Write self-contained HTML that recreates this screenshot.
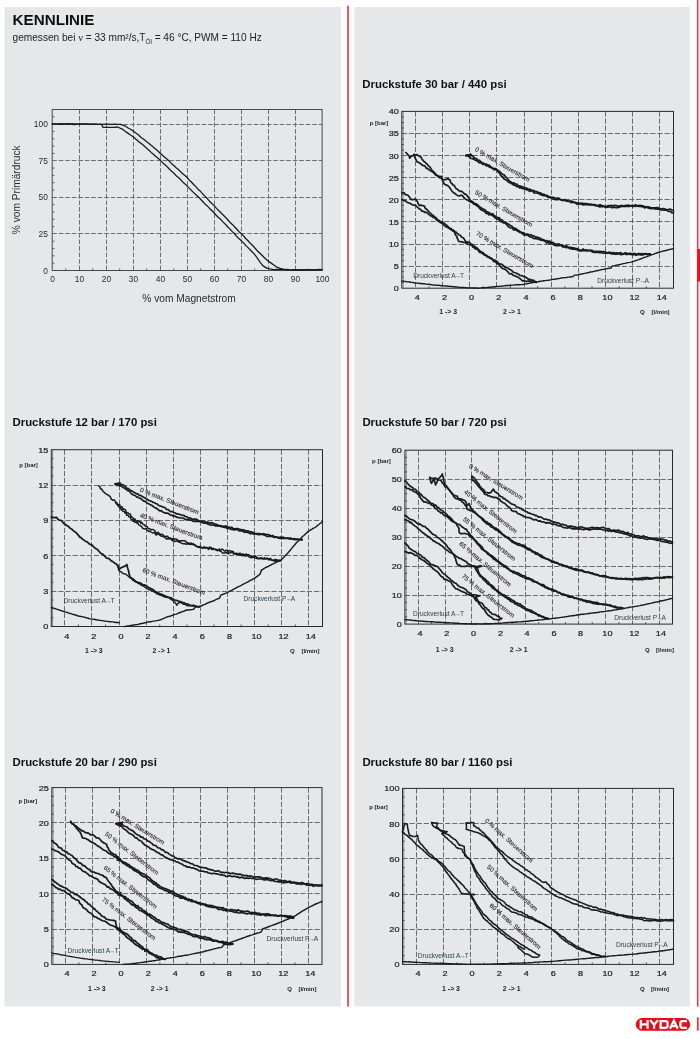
<!DOCTYPE html>
<html><head><meta charset="utf-8"><title>Kennlinie</title>
<style>
html,body{margin:0;padding:0;background:#fff;}
body{width:700px;height:1039px;overflow:hidden;font-family:"Liberation Sans",sans-serif;}
svg{display:block;position:absolute;left:0;top:0;}
text{font-family:"Liberation Sans",sans-serif;}
.g{stroke:#6a6a6a;stroke-width:1;stroke-dasharray:5.2 1.9;fill:none;}
.g1{stroke:#6e6e6e;stroke-width:1;stroke-dasharray:4.7 1.8;fill:none;}
.f1{stroke:#4a4a4a;stroke-width:1;fill:none;}
.t{stroke:#333;stroke-width:0.8;fill:none;}
.f{stroke:#2b2b2b;stroke-width:1;fill:none;}
.c{stroke:#1a1a1a;fill:none;stroke-linejoin:round;stroke-linecap:round;}
</style></head><body>
<svg width="700" height="1039" viewBox="0 0 700 1039">
<defs><filter id="bl" x="0" y="0" width="100%" height="100%" filterUnits="objectBoundingBox"><feGaussianBlur stdDeviation="0.36"/></filter></defs>
<g filter="url(#bl)">
<rect x="0" y="0" width="700" height="1039" fill="#ffffff"/>
<rect x="4.5" y="7" width="336.3" height="999.4" fill="#e6e7e8"/>
<rect x="354.3" y="7" width="335.6" height="999.4" fill="#e6e7e8"/>
<rect x="347.2" y="5.8" width="1.7" height="1000.8" fill="#ea3a44"/>
<rect x="696.9" y="0" width="1.6" height="1006.6" fill="#ea3a44"/>
<rect x="697.4" y="249" width="2.6" height="32.6" fill="#e8111d"/>
<rect x="696.9" y="1017.3" width="1.8" height="13.4" fill="#ea3a44"/>

<text x="12.6" y="25.4" font-size="15.2" text-anchor="start" font-weight="bold" fill="#111">KENNLINIE</text>
<text x="12.6" y="41.2" font-size="10.1" fill="#222">gemessen bei <tspan font-family="Liberation Serif" font-size="10.5">ν</tspan> = 33 mm²/s,T<tspan font-size="6.3" dy="2.6">Öl</tspan><tspan dy="-2.6"> = 46 °C, PWM = 110 Hz</tspan></text>
<line x1="79.50" y1="109.50" x2="79.50" y2="270.50" class="g1"/>
<line x1="106.50" y1="109.50" x2="106.50" y2="270.50" class="g1"/>
<line x1="133.50" y1="109.50" x2="133.50" y2="270.50" class="g1"/>
<line x1="160.50" y1="109.50" x2="160.50" y2="270.50" class="g1"/>
<line x1="187.50" y1="109.50" x2="187.50" y2="270.50" class="g1"/>
<line x1="214.50" y1="109.50" x2="214.50" y2="270.50" class="g1"/>
<line x1="241.50" y1="109.50" x2="241.50" y2="270.50" class="g1"/>
<line x1="268.50" y1="109.50" x2="268.50" y2="270.50" class="g1"/>
<line x1="295.50" y1="109.50" x2="295.50" y2="270.50" class="g1"/>
<line x1="52.20" y1="233.50" x2="322.10" y2="233.50" class="g1"/>
<line x1="52.20" y1="197.50" x2="322.10" y2="197.50" class="g1"/>
<line x1="52.20" y1="160.50" x2="322.10" y2="160.50" class="g1"/>
<line x1="52.20" y1="124.50" x2="322.10" y2="124.50" class="g1"/>
<line x1="65.70" y1="270.50" x2="65.70" y2="268.50" class="t"/>
<line x1="92.69" y1="270.50" x2="92.69" y2="268.50" class="t"/>
<line x1="119.68" y1="270.50" x2="119.68" y2="268.50" class="t"/>
<line x1="146.67" y1="270.50" x2="146.67" y2="268.50" class="t"/>
<line x1="173.66" y1="270.50" x2="173.66" y2="268.50" class="t"/>
<line x1="200.65" y1="270.50" x2="200.65" y2="268.50" class="t"/>
<line x1="227.64" y1="270.50" x2="227.64" y2="268.50" class="t"/>
<line x1="254.62" y1="270.50" x2="254.62" y2="268.50" class="t"/>
<line x1="281.62" y1="270.50" x2="281.62" y2="268.50" class="t"/>
<line x1="308.61" y1="270.50" x2="308.61" y2="268.50" class="t"/>
<line x1="52.20" y1="263.18" x2="54.40" y2="263.18" class="t"/>
<line x1="52.20" y1="255.86" x2="54.40" y2="255.86" class="t"/>
<line x1="52.20" y1="248.55" x2="54.40" y2="248.55" class="t"/>
<line x1="52.20" y1="241.23" x2="54.40" y2="241.23" class="t"/>
<line x1="52.20" y1="226.59" x2="54.40" y2="226.59" class="t"/>
<line x1="52.20" y1="219.27" x2="54.40" y2="219.27" class="t"/>
<line x1="52.20" y1="211.95" x2="54.40" y2="211.95" class="t"/>
<line x1="52.20" y1="204.64" x2="54.40" y2="204.64" class="t"/>
<line x1="52.20" y1="190.00" x2="54.40" y2="190.00" class="t"/>
<line x1="52.20" y1="182.68" x2="54.40" y2="182.68" class="t"/>
<line x1="52.20" y1="175.36" x2="54.40" y2="175.36" class="t"/>
<line x1="52.20" y1="168.05" x2="54.40" y2="168.05" class="t"/>
<line x1="52.20" y1="153.41" x2="54.40" y2="153.41" class="t"/>
<line x1="52.20" y1="146.09" x2="54.40" y2="146.09" class="t"/>
<line x1="52.20" y1="138.77" x2="54.40" y2="138.77" class="t"/>
<line x1="52.20" y1="131.45" x2="54.40" y2="131.45" class="t"/>
<line x1="52.20" y1="116.82" x2="54.40" y2="116.82" class="t"/>
<rect x="52.20" y="109.50" width="269.90" height="161.00" class="f1"/>
<path d="M52.2,124.1 L55.2,124.1 L58.2,124.3 L61.4,124.3 L64.5,124.2 L67.5,124.2 L70.6,124.2 L73.6,124.5 L76.7,124.4 L79.8,124.2 L82.9,124.2 L86.1,124.2 L89.3,124.4 L92.2,124.1 L95.4,124.1 L98.5,124.3 L101.9,124.3 L104.9,124.2 L108.0,124.2 L111.2,124.4 L114.3,124.1 L117.6,124.3 L120.6,124.3 L124.9,125.8 L127.8,127.7 L130.5,129.2 L133.1,130.9 L135.9,133.1 L138.6,135.1 L141.1,137.4 L144.0,139.6 L146.7,141.7 L149.3,143.7 L152.0,146.0 L154.6,148.2 L157.4,150.6 L160.2,153.2 L162.4,155.2 L164.7,157.3 L166.9,159.1 L169.1,161.1 L171.4,163.4 L173.8,165.6 L175.9,167.5 L178.3,169.4 L180.5,171.8 L182.7,173.7 L184.9,175.6 L187.2,177.6 L189.4,180.2 L191.6,182.3 L193.9,184.7 L196.1,186.9 L198.3,189.6 L200.7,191.6 L203.0,194.3 L205.2,196.4 L207.5,198.8 L209.6,201.4 L212.0,203.6 L214.3,205.9 L216.5,208.4 L218.6,210.5 L220.9,212.8 L223.2,215.0 L225.4,217.3 L227.8,219.8 L229.9,222.2 L232.3,224.4 L234.5,226.7 L236.7,229.0 L238.8,231.4 L241.1,233.5 L243.5,235.9 L245.7,238.5 L248.0,240.7 L250.3,243.2 L252.7,245.5 L254.9,248.0 L257.2,250.7 L259.9,253.2 L262.7,256.0 L265.3,258.5 L268.1,261.1 L270.8,262.9 L273.5,264.8 L276.3,266.8 L281.8,269.0 L287.0,269.8 L291.2,270.1 L295.1,270.0 L298.5,270.0 L301.9,269.9 L305.3,270.1 L308.7,269.7 L312.0,269.8 L315.2,269.8 L318.8,269.5 L322.1,269.6" class="c" stroke-width="1.3"/>
<path d="M52.2,123.8 L55.3,123.9 L58.3,123.8 L61.3,123.7 L64.4,123.8 L67.5,123.6 L70.6,123.7 L73.7,123.8 L76.9,123.9 L80.0,124.1 L83.0,123.8 L86.2,123.8 L89.3,124.1 L92.2,124.2 L95.5,124.2 L98.6,124.3 L101.5,124.2 L102.9,127.3 L106.7,127.4 L110.4,127.4 L114.1,127.3 L117.6,127.0 L122.3,129.1 L125.0,131.3 L127.8,133.1 L130.5,135.0 L133.2,136.7 L136.0,139.3 L138.6,141.6 L141.3,143.5 L144.0,145.8 L146.6,148.2 L149.0,150.2 L151.2,152.4 L153.4,154.2 L155.6,156.3 L158.0,158.3 L160.2,160.1 L162.4,162.4 L164.7,164.5 L167.0,166.6 L169.1,168.8 L171.4,171.1 L173.7,173.0 L175.9,175.4 L178.1,177.3 L180.5,179.5 L182.7,181.9 L184.8,183.8 L187.2,186.1 L189.3,188.1 L191.5,190.5 L193.7,192.6 L196.0,194.8 L198.4,196.9 L200.6,199.3 L202.9,201.7 L205.0,204.0 L207.3,205.9 L209.5,208.4 L211.8,210.5 L214.0,212.8 L216.2,215.2 L218.4,217.5 L220.9,219.6 L223.1,222.1 L225.4,224.3 L227.6,226.7 L230.0,229.1 L232.1,231.4 L234.3,233.5 L236.5,236.2 L238.9,238.6 L241.1,240.6 L243.5,242.9 L245.9,245.6 L248.3,247.9 L250.6,250.3 L254.8,254.6 L256.8,257.3 L258.8,260.4 L260.8,263.2 L262.7,265.6 L266.8,268.1 L270.1,268.9 L273.4,269.6 L277.1,269.5 L280.7,269.5 L284.2,269.7 L287.3,269.5 L290.5,269.9 L293.7,269.7 L297.0,270.1 L300.0,269.7 L303.1,269.6 L306.3,269.6 L309.5,269.7 L312.6,269.9 L315.8,269.6 L318.8,269.6 L322.1,269.8" class="c" stroke-width="1.3"/>
<text x="47.8" y="273.5" font-size="8.4" text-anchor="end" font-weight="normal" fill="#2a2a2a">0</text>
<text x="47.8" y="236.9" font-size="8.4" text-anchor="end" font-weight="normal" fill="#2a2a2a">25</text>
<text x="47.8" y="200.3" font-size="8.4" text-anchor="end" font-weight="normal" fill="#2a2a2a">50</text>
<text x="47.8" y="163.7" font-size="8.4" text-anchor="end" font-weight="normal" fill="#2a2a2a">75</text>
<text x="47.8" y="127.1" font-size="8.4" text-anchor="end" font-weight="normal" fill="#2a2a2a">100</text>
<text x="52.5" y="281.8" font-size="8.4" text-anchor="middle" font-weight="normal" fill="#2a2a2a">0</text>
<text x="79.5" y="281.8" font-size="8.4" text-anchor="middle" font-weight="normal" fill="#2a2a2a">10</text>
<text x="106.5" y="281.8" font-size="8.4" text-anchor="middle" font-weight="normal" fill="#2a2a2a">20</text>
<text x="133.5" y="281.8" font-size="8.4" text-anchor="middle" font-weight="normal" fill="#2a2a2a">30</text>
<text x="160.5" y="281.8" font-size="8.4" text-anchor="middle" font-weight="normal" fill="#2a2a2a">40</text>
<text x="187.5" y="281.8" font-size="8.4" text-anchor="middle" font-weight="normal" fill="#2a2a2a">50</text>
<text x="214.4" y="281.8" font-size="8.4" text-anchor="middle" font-weight="normal" fill="#2a2a2a">60</text>
<text x="241.4" y="281.8" font-size="8.4" text-anchor="middle" font-weight="normal" fill="#2a2a2a">70</text>
<text x="268.4" y="281.8" font-size="8.4" text-anchor="middle" font-weight="normal" fill="#2a2a2a">80</text>
<text x="295.4" y="281.8" font-size="8.4" text-anchor="middle" font-weight="normal" fill="#2a2a2a">90</text>
<text x="322.4" y="281.8" font-size="8.4" text-anchor="middle" font-weight="normal" fill="#2a2a2a">100</text>
<text x="19.8" y="189.8" font-size="10.2" text-anchor="middle" font-weight="normal" fill="#2a2a2a" transform="rotate(-90 19.8 189.8)">% vom Primärdruck</text>
<text x="189.0" y="302.0" font-size="10.2" text-anchor="middle" font-weight="normal" fill="#2a2a2a">% vom Magnetstrom</text>
<line x1="415.50" y1="111.40" x2="415.50" y2="288.20" class="g"/>
<line x1="442.50" y1="111.40" x2="442.50" y2="288.20" class="g"/>
<line x1="469.50" y1="111.40" x2="469.50" y2="288.20" class="g"/>
<line x1="496.50" y1="111.40" x2="496.50" y2="288.20" class="g"/>
<line x1="524.50" y1="111.40" x2="524.50" y2="288.20" class="g"/>
<line x1="551.50" y1="111.40" x2="551.50" y2="288.20" class="g"/>
<line x1="578.50" y1="111.40" x2="578.50" y2="288.20" class="g"/>
<line x1="605.50" y1="111.40" x2="605.50" y2="288.20" class="g"/>
<line x1="632.50" y1="111.40" x2="632.50" y2="288.20" class="g"/>
<line x1="659.50" y1="111.40" x2="659.50" y2="288.20" class="g"/>
<line x1="401.80" y1="266.50" x2="673.50" y2="266.50" class="g"/>
<line x1="401.80" y1="244.50" x2="673.50" y2="244.50" class="g"/>
<line x1="401.80" y1="221.50" x2="673.50" y2="221.50" class="g"/>
<line x1="401.80" y1="199.50" x2="673.50" y2="199.50" class="g"/>
<line x1="401.80" y1="177.50" x2="673.50" y2="177.50" class="g"/>
<line x1="401.80" y1="155.50" x2="673.50" y2="155.50" class="g"/>
<line x1="401.80" y1="133.50" x2="673.50" y2="133.50" class="g"/>
<line x1="428.97" y1="288.20" x2="428.97" y2="286.20" class="t"/>
<line x1="456.14" y1="288.20" x2="456.14" y2="286.20" class="t"/>
<line x1="483.31" y1="288.20" x2="483.31" y2="286.20" class="t"/>
<line x1="510.48" y1="288.20" x2="510.48" y2="286.20" class="t"/>
<line x1="537.65" y1="288.20" x2="537.65" y2="286.20" class="t"/>
<line x1="564.82" y1="288.20" x2="564.82" y2="286.20" class="t"/>
<line x1="591.99" y1="288.20" x2="591.99" y2="286.20" class="t"/>
<line x1="619.16" y1="288.20" x2="619.16" y2="286.20" class="t"/>
<line x1="646.33" y1="288.20" x2="646.33" y2="286.20" class="t"/>
<line x1="401.80" y1="282.68" x2="404.00" y2="282.68" class="t"/>
<line x1="401.80" y1="277.15" x2="404.00" y2="277.15" class="t"/>
<line x1="401.80" y1="271.62" x2="404.00" y2="271.62" class="t"/>
<line x1="401.80" y1="260.57" x2="404.00" y2="260.57" class="t"/>
<line x1="401.80" y1="255.05" x2="404.00" y2="255.05" class="t"/>
<line x1="401.80" y1="249.52" x2="404.00" y2="249.52" class="t"/>
<line x1="401.80" y1="238.47" x2="404.00" y2="238.47" class="t"/>
<line x1="401.80" y1="232.95" x2="404.00" y2="232.95" class="t"/>
<line x1="401.80" y1="227.43" x2="404.00" y2="227.43" class="t"/>
<line x1="401.80" y1="216.38" x2="404.00" y2="216.38" class="t"/>
<line x1="401.80" y1="210.85" x2="404.00" y2="210.85" class="t"/>
<line x1="401.80" y1="205.32" x2="404.00" y2="205.32" class="t"/>
<line x1="401.80" y1="194.27" x2="404.00" y2="194.27" class="t"/>
<line x1="401.80" y1="188.75" x2="404.00" y2="188.75" class="t"/>
<line x1="401.80" y1="183.22" x2="404.00" y2="183.22" class="t"/>
<line x1="401.80" y1="172.18" x2="404.00" y2="172.18" class="t"/>
<line x1="401.80" y1="166.65" x2="404.00" y2="166.65" class="t"/>
<line x1="401.80" y1="161.12" x2="404.00" y2="161.12" class="t"/>
<line x1="401.80" y1="150.07" x2="404.00" y2="150.07" class="t"/>
<line x1="401.80" y1="144.55" x2="404.00" y2="144.55" class="t"/>
<line x1="401.80" y1="139.03" x2="404.00" y2="139.03" class="t"/>
<line x1="401.80" y1="127.97" x2="404.00" y2="127.97" class="t"/>
<line x1="401.80" y1="122.45" x2="404.00" y2="122.45" class="t"/>
<line x1="401.80" y1="116.93" x2="404.00" y2="116.93" class="t"/>
<rect x="401.80" y="111.40" width="271.70" height="176.80" class="f"/>
<line x1="403.10" y1="111.40" x2="403.10" y2="288.20" stroke="#444" stroke-width="0.6"/>
<text x="362.3" y="87.6" font-size="11.4" text-anchor="start" font-weight="bold" fill="#111">Druckstufe 30 bar / 440 psi</text>
<text transform="translate(398.8 291.1) scale(1.14 1)" font-size="8" text-anchor="end" font-weight="normal" fill="#222" stroke="#222" stroke-width="0.22">0</text>
<text transform="translate(398.8 269.0) scale(1.14 1)" font-size="8" text-anchor="end" font-weight="normal" fill="#222" stroke="#222" stroke-width="0.22">5</text>
<text transform="translate(398.8 246.9) scale(1.14 1)" font-size="8" text-anchor="end" font-weight="normal" fill="#222" stroke="#222" stroke-width="0.22">10</text>
<text transform="translate(398.8 224.8) scale(1.14 1)" font-size="8" text-anchor="end" font-weight="normal" fill="#222" stroke="#222" stroke-width="0.22">15</text>
<text transform="translate(398.8 202.7) scale(1.14 1)" font-size="8" text-anchor="end" font-weight="normal" fill="#222" stroke="#222" stroke-width="0.22">20</text>
<text transform="translate(398.8 180.6) scale(1.14 1)" font-size="8" text-anchor="end" font-weight="normal" fill="#222" stroke="#222" stroke-width="0.22">25</text>
<text transform="translate(398.8 158.5) scale(1.14 1)" font-size="8" text-anchor="end" font-weight="normal" fill="#222" stroke="#222" stroke-width="0.22">30</text>
<text transform="translate(398.8 136.4) scale(1.14 1)" font-size="8" text-anchor="end" font-weight="normal" fill="#222" stroke="#222" stroke-width="0.22">35</text>
<text transform="translate(398.8 114.3) scale(1.14 1)" font-size="8" text-anchor="end" font-weight="normal" fill="#222" stroke="#222" stroke-width="0.22">40</text>
<text transform="translate(417.2 300.2) scale(1.14 1)" font-size="8" text-anchor="middle" font-weight="normal" fill="#222" stroke="#222" stroke-width="0.22">4</text>
<text transform="translate(444.4 300.2) scale(1.14 1)" font-size="8" text-anchor="middle" font-weight="normal" fill="#222" stroke="#222" stroke-width="0.22">2</text>
<text transform="translate(471.5 300.2) scale(1.14 1)" font-size="8" text-anchor="middle" font-weight="normal" fill="#222" stroke="#222" stroke-width="0.22">0</text>
<text transform="translate(498.7 300.2) scale(1.14 1)" font-size="8" text-anchor="middle" font-weight="normal" fill="#222" stroke="#222" stroke-width="0.22">2</text>
<text transform="translate(525.9 300.2) scale(1.14 1)" font-size="8" text-anchor="middle" font-weight="normal" fill="#222" stroke="#222" stroke-width="0.22">4</text>
<text transform="translate(553.0 300.2) scale(1.14 1)" font-size="8" text-anchor="middle" font-weight="normal" fill="#222" stroke="#222" stroke-width="0.22">6</text>
<text transform="translate(580.2 300.2) scale(1.14 1)" font-size="8" text-anchor="middle" font-weight="normal" fill="#222" stroke="#222" stroke-width="0.22">8</text>
<text transform="translate(607.4 300.2) scale(1.14 1)" font-size="8" text-anchor="middle" font-weight="normal" fill="#222" stroke="#222" stroke-width="0.22">10</text>
<text transform="translate(634.5 300.2) scale(1.14 1)" font-size="8" text-anchor="middle" font-weight="normal" fill="#222" stroke="#222" stroke-width="0.22">12</text>
<text transform="translate(661.7 300.2) scale(1.14 1)" font-size="8" text-anchor="middle" font-weight="normal" fill="#222" stroke="#222" stroke-width="0.22">14</text>
<text x="369.7" y="124.8" font-size="6" text-anchor="start" font-weight="bold" fill="#222">p [bar]</text>
<text x="448.2" y="314.3" font-size="6.9" text-anchor="middle" font-weight="bold" fill="#222">1 -&gt; 3</text>
<text x="511.9" y="314.3" font-size="6.9" text-anchor="middle" font-weight="bold" fill="#222">2 -&gt; 1</text>
<text x="640.0" y="314.1" font-size="6.0" text-anchor="start" font-weight="bold" fill="#222">Q</text>
<text x="651.6" y="314.2" font-size="6.0" text-anchor="start" font-weight="bold" fill="#222">[l/min]</text>
<path d="M465.6,155.6 L467.6,154.9 L469.4,155.1 L471.2,155.5 L472.6,155.8 L473.6,157.2 L475.4,158.7 L476.4,158.7 L477.9,160.0 L479.5,160.4 L480.8,161.8 L482.2,162.8 L483.5,163.2 L484.8,163.8 L486.5,164.0 L487.5,165.2 L489.1,165.2 L490.7,166.8 L492.4,168.0 L494.2,168.7 L495.4,168.5 L496.8,169.6 L498.5,170.7 L499.6,171.7 L501.1,173.0 L502.5,174.3 L503.8,174.6 L505.0,175.9 L506.0,177.2 L507.4,178.4 L508.3,179.6 L509.4,181.5 L510.6,181.7 L512.0,183.1 L513.5,182.7 L515.2,184.0 L516.8,184.0 L518.0,185.5 L519.7,186.1 L520.7,186.2 L522.3,186.7 L524.4,188.0 L525.6,187.9 L526.9,188.3 L528.0,189.3 L529.9,189.1 L531.2,190.3 L532.3,190.3 L533.7,190.6 L535.2,191.5 L536.9,191.6 L537.9,192.2 L539.8,192.7 L541.1,193.3 L542.9,194.4 L543.9,194.3 L545.5,195.4 L547.1,195.3 L548.3,196.7 L549.9,196.6 L551.2,197.8 L552.5,197.3 L554.1,197.5 L556.0,198.7 L557.2,198.1 L558.8,198.2 L559.9,199.3 L561.7,199.8 L563.3,200.2 L564.7,199.5 L565.9,200.2 L567.8,200.9 L569.1,201.0 L570.7,201.0 L572.0,201.1 L573.8,202.3 L575.2,202.3 L577.1,203.2 L578.3,202.7 L580.2,203.7 L581.6,203.1 L583.2,203.5 L584.6,203.7 L586.2,203.5 L587.7,203.8 L588.9,204.7 L590.7,204.2 L591.8,204.4 L593.4,204.6 L594.8,204.7 L596.6,205.6 L597.8,205.7 L599.6,204.9 L601.2,205.2 L602.5,205.9 L604.2,206.1 L605.5,206.5 L606.9,206.3 L608.3,205.6 L609.6,205.8 L611.5,205.4 L613.3,206.2 L614.5,205.3 L616.2,205.5 L617.7,206.1 L619.2,206.1 L621.0,205.5 L622.5,205.6 L624.1,206.4 L625.3,205.3 L626.8,205.5 L628.4,205.0 L629.9,206.1 L631.4,205.9 L632.4,205.8 L634.0,205.7 L635.8,204.9 L637.1,205.9 L638.3,205.6 L640.2,205.4 L641.9,205.9 L643.4,205.9 L644.8,207.1 L646.2,206.7 L648.0,207.1 L649.1,206.9 L650.7,207.9 L652.4,207.8 L653.6,207.9 L655.2,207.9 L656.9,207.6 L658.5,207.9 L659.9,208.6 L661.1,209.0 L663.0,208.5 L664.6,208.8 L666.2,209.5 L667.3,209.9 L668.8,209.4 L670.4,209.2 L672.1,210.1 L673.5,210.8" class="c" stroke-width="1.7"/>
<path d="M465.6,155.6 L467.0,155.6 L468.9,156.4 L470.5,158.2 L472.3,158.8 L473.8,158.7 L475.1,160.2 L476.6,160.6 L477.8,161.4 L478.8,162.5 L480.0,163.0 L481.4,162.8 L482.8,164.5 L484.8,164.2 L486.1,165.7 L487.8,166.0 L489.2,166.9 L491.0,167.6 L492.5,168.2 L493.7,169.6 L495.3,169.4 L496.8,169.8 L497.9,171.7 L498.9,172.7 L499.8,173.7 L500.9,175.6 L501.7,176.5 L502.7,176.8 L503.8,178.7 L505.1,179.4 L506.6,180.2 L507.6,181.3 L509.2,182.5 L510.5,183.0 L511.9,183.7 L513.9,185.2 L515.2,185.1 L516.6,186.6 L518.2,186.4 L519.6,187.9 L520.9,187.7 L522.4,188.6 L524.1,188.4 L525.2,189.2 L526.6,189.6 L528.0,190.0 L529.5,191.4 L531.2,190.7 L532.8,191.2 L534.0,192.9 L535.6,193.0 L536.9,193.0 L538.5,193.5 L539.5,194.0 L540.9,194.6 L542.8,195.4 L544.0,195.6 L545.4,195.6 L547.0,196.5 L548.5,197.5 L549.7,197.5 L551.4,198.0 L552.7,198.8 L554.7,199.4 L556.0,199.7 L557.5,199.7 L558.8,199.4 L560.4,199.5 L561.7,200.4 L563.2,200.3 L564.4,200.3 L566.0,200.9 L567.6,201.3 L569.5,201.3 L571.0,202.6 L572.3,202.5 L574.3,202.5 L575.6,203.0 L577.2,204.3 L578.5,203.5 L580.0,204.0 L581.5,204.1 L583.1,204.9 L584.5,204.5 L586.4,204.6 L587.6,204.7 L589.1,204.4 L590.7,204.9 L591.7,205.0 L593.4,204.8 L595.0,205.7 L596.6,205.6 L598.0,205.9 L599.8,207.0 L601.2,206.3 L602.9,206.7 L604.0,206.5 L605.8,207.4 L607.3,207.1 L608.8,206.8 L610.6,207.0 L612.0,207.8 L613.6,207.3 L614.8,207.4 L616.2,207.6 L617.8,207.7 L619.2,206.9 L620.7,206.9 L622.0,206.1 L623.9,206.4 L624.9,206.1 L626.7,206.4 L628.2,206.4 L629.4,206.5 L631.2,205.4 L632.8,206.7 L634.2,205.8 L635.8,206.5 L636.6,205.6 L638.7,206.5 L639.9,206.2 L641.5,206.7 L643.3,206.9 L644.5,207.9 L646.4,207.1 L648.1,208.0 L649.6,208.4 L651.2,208.7 L652.7,208.2 L654.1,208.8 L655.6,208.6 L657.3,209.2 L658.5,209.1 L660.0,209.8 L661.4,209.9 L662.8,210.0 L664.4,210.2 L666.1,209.9 L667.6,210.9 L668.9,211.5 L670.5,211.4 L671.9,212.8 L673.5,212.6" class="c" stroke-width="1.7"/>
<path d="M470.3,153.6 L470.2,155.8 L471.5,154.6 L471.7,155.2 L469.7,156.5 L467.8,155.9 L470.3,154.6 L471.2,154.7 L469.6,155.2 L470.9,154.2 L469.5,154.9 L470.0,156.3" class="c" stroke-width="1.25"/>
<path d="M405.9,152.5 L407.2,153.8 L408.1,155.1 L409.1,155.9 L409.7,158.2 L411.3,156.0 L412.8,155.9 L413.8,154.4 L415.7,155.0 L417.0,154.6 L419.4,156.4 L420.9,156.8 L421.8,158.7 L422.8,160.2 L424.0,161.5 L425.0,162.0 L425.8,163.1 L427.3,164.2 L428.5,165.9 L430.1,167.2 L431.4,169.4 L432.1,170.6 L433.5,171.5 L435.0,173.2 L436.1,174.6 L437.7,175.6 L438.7,176.3 L439.9,177.9 L441.6,178.0 L442.4,179.4 L444.4,179.7 L446.6,179.3 L447.7,178.5 L449.1,179.6 L450.1,180.0 L450.7,182.6 L452.3,184.0 L452.9,185.1 L454.2,185.4 L455.1,187.0 L456.1,188.6 L457.6,189.4 L458.8,190.7 L460.0,191.3 L461.4,191.2 L463.2,192.4 L464.5,194.1 L465.8,194.2 L466.9,195.4 L468.6,197.4 L469.8,199.7 L470.8,200.9 L472.0,201.4 L473.1,202.0 L474.3,203.5 L475.8,203.6 L477.4,204.8 L478.2,205.3 L479.4,207.2 L480.8,207.4 L482.1,208.6 L483.7,209.3 L485.0,209.8 L486.3,211.4 L487.3,211.9 L488.7,212.5 L490.0,213.2 L491.7,214.5 L492.8,213.7 L493.6,215.3 L494.9,215.9 L496.4,217.0 L497.7,217.8 L499.2,217.7 L500.5,219.8 L502.2,219.9 L503.5,221.7 L504.7,222.2 L506.1,222.6 L507.8,224.1 L508.8,224.2 L509.9,225.4 L511.7,226.0 L513.0,227.4 L514.7,228.4 L516.1,228.5 L517.0,229.7 L518.6,230.5 L519.9,231.6 L521.4,232.3 L523.1,232.6 L523.8,233.6 L525.6,234.2 L527.0,234.0 L528.7,234.5 L529.5,234.8 L531.3,234.9 L532.6,235.9 L534.0,235.9 L535.5,237.1 L537.0,237.0 L538.4,237.6 L540.0,238.1 L541.5,239.7 L542.5,239.3 L544.0,240.0 L545.2,241.1 L546.7,240.5 L548.1,241.3 L549.9,241.2 L550.9,242.8 L552.5,242.3 L554.3,243.5 L555.8,244.0 L557.1,244.6 L558.9,243.8 L560.2,244.9 L561.9,245.1 L563.3,245.7 L564.8,246.3 L566.7,245.9 L568.0,246.9 L569.3,247.6 L571.3,247.3 L572.5,248.2 L573.9,247.8 L575.7,248.7 L577.0,248.6 L578.7,249.5 L580.5,250.0 L581.9,250.0 L583.3,249.0 L584.7,250.6 L586.4,249.8 L587.5,250.3 L589.0,250.3 L590.3,250.4 L592.2,250.3 L593.5,251.6 L595.2,251.4 L596.6,251.3 L598.2,251.5 L599.2,251.4 L600.8,251.5 L602.4,251.6 L604.2,251.7 L605.5,252.1 L607.2,253.0 L608.7,252.4 L610.5,252.3 L611.8,253.3 L613.3,252.5 L614.9,253.2 L616.2,252.7 L617.7,253.1 L619.3,253.0 L620.6,252.6 L622.4,253.8 L623.9,253.5 L625.3,252.9 L626.9,253.3 L628.3,253.6 L629.7,253.3 L631.2,253.5 L632.9,253.9 L634.5,253.3 L635.9,254.4 L637.4,253.9 L639.1,253.5 L641.1,253.8 L642.6,253.6 L643.6,254.3 L645.5,253.4 L647.2,254.2 L649.0,253.8 L650.4,254.2" class="c" stroke-width="1.7"/>
<path d="M414.0,154.7 L414.6,156.6 L415.3,158.3 L416.2,160.0 L416.8,161.5 L418.6,162.6 L419.6,163.1 L421.0,163.9 L422.1,165.2 L423.8,165.6 L425.2,166.3 L426.3,168.3 L427.4,168.4 L429.3,170.0 L430.2,170.5 L431.9,171.5 L433.4,172.5 L434.9,174.2 L435.6,175.1 L437.6,176.1 L439.5,176.6 L441.5,176.3 L441.8,178.1 L442.2,179.8 L442.7,180.9 L443.6,182.3 L444.1,183.9 L445.3,184.6 L446.5,185.1 L447.7,185.6 L449.2,187.0 L450.1,188.2 L451.1,189.9 L452.1,191.3 L453.2,192.5 L454.6,193.3 L456.3,194.6 L457.8,195.6 L459.8,195.8 L461.7,195.0 L462.5,195.9 L464.3,198.1 L465.4,199.0 L467.8,200.3 L469.7,201.4 L471.1,202.2 L472.1,202.3 L473.9,204.2 L475.0,204.2 L475.7,205.1 L476.9,205.9 L478.2,206.4 L479.3,207.9 L480.6,209.4 L482.2,210.3 L483.1,210.7 L485.0,211.7 L486.0,213.3 L487.8,213.3 L488.7,214.9 L490.4,214.4 L491.4,215.1 L493.1,216.0 L494.4,217.2 L495.3,218.0 L496.9,218.9 L498.5,219.1 L499.4,220.7 L500.9,221.6 L502.4,222.2 L503.9,223.0 L505.0,223.0 L506.5,224.4 L507.8,226.1 L509.0,227.0 L510.3,227.8 L512.2,228.0 L513.5,229.8 L514.9,229.9 L515.9,229.8 L517.3,230.9 L518.5,231.4 L519.8,232.5 L521.6,232.8 L522.6,233.8 L524.2,235.1 L525.4,234.6 L527.2,235.0 L528.6,235.9 L530.3,236.9 L531.7,237.0 L533.0,238.0 L534.3,238.7 L536.0,238.4 L537.0,239.0 L538.3,239.1 L539.7,239.6 L541.2,240.1 L542.1,240.2 L543.9,240.8 L545.2,241.2 L546.5,242.9 L548.5,242.4 L550.0,244.1 L551.3,243.5 L552.8,244.3 L554.1,244.9 L555.5,245.6 L557.4,245.7 L558.9,245.7 L559.9,245.3 L561.5,245.7 L563.5,247.2 L564.7,246.6 L566.4,247.8 L568.0,247.2 L569.6,248.6 L571.0,248.3 L572.1,249.2 L573.7,248.9 L575.5,249.4 L577.2,249.7 L578.2,250.5 L580.0,250.8 L581.5,251.0 L583.2,250.7 L584.4,250.3 L585.6,250.6 L586.8,250.8 L588.4,250.7 L590.6,250.7 L591.6,251.5 L593.2,252.1 L594.6,252.4 L596.6,252.4 L598.0,252.2 L599.6,252.6 L601.0,252.5 L602.4,253.0 L604.1,253.2 L605.2,252.7 L606.9,253.1 L608.4,252.8 L609.8,253.1 L611.4,253.9 L613.2,253.8 L614.8,254.1 L616.1,253.9 L617.4,254.1 L619.2,253.6 L620.8,254.7 L622.2,254.4 L623.6,254.1 L625.5,253.7 L626.6,254.7 L628.2,254.0 L630.0,254.5 L631.3,254.4 L632.8,254.9 L634.4,254.3 L635.9,255.3 L637.8,254.5 L639.7,254.6 L640.7,254.8 L642.5,255.0 L644.2,254.3 L645.7,254.0 L647.4,254.7 L648.6,254.3 L650.4,254.2" class="c" stroke-width="1.7"/>
<path d="M401.8,192.7 L404.0,192.9 L405.6,194.6 L407.6,195.0 L408.3,195.8 L409.3,196.9 L410.5,198.7 L411.7,199.7 L413.3,199.6 L415.6,199.0 L416.5,200.2 L417.5,201.9 L418.0,203.1 L419.1,205.3 L421.0,205.1 L422.7,205.7 L424.4,206.1 L425.4,208.6 L426.7,209.3 L427.9,210.6 L428.8,211.7 L430.3,213.2 L432.0,214.7 L433.6,215.8 L435.0,217.2 L435.8,217.6 L437.4,219.6 L438.6,220.2 L440.0,221.2 L441.1,221.8 L443.0,222.4 L443.8,222.8 L445.1,224.3 L446.8,225.3 L448.1,226.6 L449.6,228.5 L450.9,228.3 L452.2,230.2 L453.5,230.0 L455.0,232.1 L456.1,232.1 L457.2,233.4 L459.0,234.7 L460.5,235.4 L461.4,237.0 L463.0,237.7 L464.0,238.7 L464.7,239.9 L465.8,241.5 L466.8,242.1 L468.2,242.1 L469.5,242.4 L471.1,244.3 L472.3,244.4 L473.3,246.0 L474.3,246.0 L475.5,247.2 L477.2,248.1 L478.5,249.5 L479.6,250.6 L480.9,251.7 L482.2,252.2 L483.6,253.2 L485.0,254.9 L486.3,255.0 L487.7,256.8 L488.7,256.5 L490.1,258.3 L491.3,258.0 L492.8,259.7 L494.2,259.9 L495.7,260.6 L497.0,261.5 L498.0,262.6 L499.4,263.8 L501.0,264.0 L502.5,264.8 L503.5,265.7 L505.3,267.6 L506.2,267.2 L508.0,268.3 L509.4,269.3 L510.5,269.8 L512.0,270.7 L513.1,272.0 L514.3,272.5 L515.5,272.8 L517.0,273.6 L518.2,274.0 L519.8,275.3 L521.6,275.7 L522.3,275.8 L523.7,276.6 L525.2,276.9 L527.1,278.2 L528.4,279.3 L529.7,279.2 L531.2,280.1 L533.3,280.2 L534.7,281.4 L536.3,282.0" class="c" stroke-width="1.7"/>
<path d="M401.8,199.4 L403.7,200.6 L405.5,200.6 L407.1,202.3 L408.6,202.9 L410.4,203.5 L412.3,204.7 L413.7,205.2 L415.5,205.4 L417.1,206.9 L418.5,208.1 L419.7,209.1 L420.8,209.5 L421.9,211.2 L423.5,211.4 L424.9,212.5 L425.9,212.1 L427.7,213.4 L429.0,214.6 L430.5,215.7 L431.2,215.9 L433.1,217.4 L433.9,217.3 L435.5,218.5 L436.9,220.3 L438.6,221.1 L439.8,222.2 L441.6,223.2 L442.6,223.9 L444.3,225.5 L445.2,226.4 L446.6,226.9 L447.8,227.6 L449.0,228.4 L450.3,229.2 L452.0,229.9 L452.9,231.3 L454.4,231.8 L455.1,234.0 L455.8,235.4 L456.9,236.3 L457.3,238.5 L458.1,239.5 L458.5,241.2 L460.3,241.7 L462.0,241.9 L463.8,242.5 L465.4,242.7 L467.6,244.1 L469.4,244.8 L470.9,244.8 L472.2,245.8 L473.1,247.3 L474.6,248.0 L475.8,249.2 L477.3,249.1 L478.6,250.9 L479.8,252.4 L481.0,252.7 L482.3,253.2 L483.3,254.2 L484.9,255.3 L486.0,255.5 L486.8,256.6 L488.4,257.5 L490.0,257.7 L491.0,258.7 L492.7,259.5 L493.7,261.5 L495.5,261.8 L497.0,263.6 L498.2,263.8 L499.7,265.4 L501.2,267.4 L502.8,268.7 L503.8,269.0 L505.3,269.5 L506.9,270.8 L507.8,271.8 L509.2,273.6 L510.6,273.9 L511.8,273.7 L513.0,275.3 L514.7,275.9 L515.8,276.0 L516.9,276.9 L518.4,277.3 L520.0,278.6 L521.2,279.7 L522.5,280.8 L524.2,280.7 L525.4,281.1 L527.0,281.4 L528.4,281.0 L530.2,281.2 L531.8,282.2 L533.3,282.1 L535.0,282.1 L536.3,282.5" class="c" stroke-width="1.7"/>
<path d="M401.8,280.9 L403.3,281.1 L404.8,281.4 L406.4,281.7 L407.8,281.9 L409.4,282.0 L410.9,282.3 L412.4,282.4 L413.9,282.8 L415.5,283.0 L416.9,283.1 L418.4,283.2 L419.9,283.5 L421.4,283.5 L423.0,283.7 L424.5,283.8 L426.0,284.1 L427.4,284.4 L428.9,284.3 L430.5,284.5 L432.0,284.9 L433.6,285.0 L435.0,285.1 L436.5,285.2 L438.1,285.4 L439.5,285.3 L441.1,285.7 L442.5,285.7 L444.1,285.9 L445.5,286.0 L447.0,286.0 L448.6,286.2 L450.1,286.4 L451.6,286.5 L453.1,286.7 L454.7,286.8 L456.1,286.9 L457.7,287.1 L459.2,287.3 L460.7,287.4 L462.1,287.5 L463.7,287.5 L465.2,287.6 L466.7,287.8 L468.2,287.9 L469.7,287.9 L471.4,287.9 L473.0,288.0 L474.6,288.0 L476.2,288.0 L477.8,288.3 L479.4,288.1 L481.0,287.9 L482.6,287.8 L484.3,287.7 L485.8,287.6 L487.5,287.4 L489.0,287.3 L490.6,287.2 L492.2,287.0 L493.8,286.8 L495.3,286.7 L496.9,286.4 L498.4,286.4 L499.9,286.3 L501.5,286.1 L502.9,286.0 L504.5,285.9 L506.0,285.5 L507.4,285.4 L509.0,285.5 L510.4,285.3 L512.0,285.1 L513.5,285.1 L515.0,284.9 L516.6,284.8 L518.1,284.8 L519.6,284.7 L521.1,284.6 L522.6,284.5 L524.1,284.3 L525.6,283.9 L527.1,283.8 L528.6,283.3 L530.1,283.1 L531.6,282.7 L533.1,282.5 L534.6,282.2 L536.1,282.0 L537.7,281.9 L539.1,281.5 L540.7,281.2 L542.1,281.1 L543.6,280.8 L545.2,280.6 L546.7,280.4 L548.2,280.3 L549.7,280.1 L551.2,279.8 L552.7,279.4 L554.2,279.2 L555.7,279.0 L557.3,278.7 L558.7,278.6 L560.3,278.2 L561.8,277.9 L563.3,277.7 L564.8,277.6 L566.4,277.5 L568.1,277.1 L569.7,277.0 L571.4,276.8 L573.0,276.6 L574.3,275.1 L576.4,275.0 L578.4,274.7 L579.9,274.3 L581.4,274.1 L582.9,273.7 L584.5,273.4 L585.9,273.1 L587.4,272.8 L589.0,272.5 L590.4,272.0 L591.9,271.8 L593.5,271.5 L595.0,271.1 L596.5,270.7 L598.0,270.5 L599.5,270.1 L601.0,269.8 L602.6,269.4 L604.1,269.2 L605.6,268.9 L607.4,268.6 L609.2,268.3 L611.1,268.0 L612.3,266.0 L614.1,265.9 L615.7,265.4 L617.4,265.0 L619.2,264.8 L620.7,264.3 L622.2,263.9 L623.7,263.6 L625.1,263.4 L626.6,262.9 L628.1,262.6 L629.7,262.4 L631.2,262.1 L632.7,261.6 L634.3,261.1 L635.7,260.6 L637.2,260.1 L638.7,259.6 L640.3,259.0 L641.7,258.5 L643.2,257.9 L644.8,257.2 L646.4,256.9 L648.1,256.2 L649.8,255.6 L651.4,254.9 L653.2,254.3 L654.9,253.6 L656.6,253.0 L658.2,252.5 L659.9,252.0 L661.4,251.6 L662.9,251.1 L664.4,250.7 L665.9,250.5 L667.4,250.0 L668.9,249.7 L670.4,249.2 L672.0,249.0 L673.5,248.6" class="c" stroke-width="1.4"/>
<text x="474.5" y="150.6" font-size="6.3" text-anchor="start" font-weight="normal" fill="#2b2626" transform="rotate(30.2 474.5 150.6)" stroke="#2b2626" stroke-width="0.12">0 % max. Steuerstrom</text>
<text x="474.5" y="193.6" font-size="6.3" text-anchor="start" font-weight="normal" fill="#2b2626" transform="rotate(30.8 474.5 193.6)" stroke="#2b2626" stroke-width="0.12">50 % max. Steuerstrom</text>
<text x="475.5" y="234.8" font-size="6.3" text-anchor="start" font-weight="normal" fill="#2b2626" transform="rotate(30.7 475.5 234.8)" stroke="#2b2626" stroke-width="0.12">70 % max. Steuerstrom</text>
<text x="413.2" y="277.5" font-size="6.6" text-anchor="start" font-weight="normal" fill="#2c4250">Druckverlust A<tspan dx="-0.9" font-size="6.2">→</tspan><tspan dx="-0.9">T</tspan></text>
<text x="597.3" y="283.3" font-size="6.6" text-anchor="start" font-weight="normal" fill="#2c4250">Druckverlust P<tspan dx="-0.9" font-size="6.2">→</tspan><tspan dx="-0.9">A</tspan></text>
<line x1="64.50" y1="449.70" x2="64.50" y2="626.50" class="g"/>
<line x1="91.50" y1="449.70" x2="91.50" y2="626.50" class="g"/>
<line x1="119.50" y1="449.70" x2="119.50" y2="626.50" class="g"/>
<line x1="146.50" y1="449.70" x2="146.50" y2="626.50" class="g"/>
<line x1="173.50" y1="449.70" x2="173.50" y2="626.50" class="g"/>
<line x1="200.50" y1="449.70" x2="200.50" y2="626.50" class="g"/>
<line x1="227.50" y1="449.70" x2="227.50" y2="626.50" class="g"/>
<line x1="254.50" y1="449.70" x2="254.50" y2="626.50" class="g"/>
<line x1="281.50" y1="449.70" x2="281.50" y2="626.50" class="g"/>
<line x1="308.50" y1="449.70" x2="308.50" y2="626.50" class="g"/>
<line x1="51.30" y1="591.50" x2="322.50" y2="591.50" class="g"/>
<line x1="51.30" y1="555.50" x2="322.50" y2="555.50" class="g"/>
<line x1="51.30" y1="520.50" x2="322.50" y2="520.50" class="g"/>
<line x1="51.30" y1="485.50" x2="322.50" y2="485.50" class="g"/>
<line x1="78.42" y1="626.50" x2="78.42" y2="624.50" class="t"/>
<line x1="105.54" y1="626.50" x2="105.54" y2="624.50" class="t"/>
<line x1="132.66" y1="626.50" x2="132.66" y2="624.50" class="t"/>
<line x1="159.78" y1="626.50" x2="159.78" y2="624.50" class="t"/>
<line x1="186.90" y1="626.50" x2="186.90" y2="624.50" class="t"/>
<line x1="214.02" y1="626.50" x2="214.02" y2="624.50" class="t"/>
<line x1="241.14" y1="626.50" x2="241.14" y2="624.50" class="t"/>
<line x1="268.26" y1="626.50" x2="268.26" y2="624.50" class="t"/>
<line x1="295.38" y1="626.50" x2="295.38" y2="624.50" class="t"/>
<line x1="51.30" y1="617.66" x2="53.50" y2="617.66" class="t"/>
<line x1="51.30" y1="608.82" x2="53.50" y2="608.82" class="t"/>
<line x1="51.30" y1="599.98" x2="53.50" y2="599.98" class="t"/>
<line x1="51.30" y1="582.30" x2="53.50" y2="582.30" class="t"/>
<line x1="51.30" y1="573.46" x2="53.50" y2="573.46" class="t"/>
<line x1="51.30" y1="564.62" x2="53.50" y2="564.62" class="t"/>
<line x1="51.30" y1="546.94" x2="53.50" y2="546.94" class="t"/>
<line x1="51.30" y1="538.10" x2="53.50" y2="538.10" class="t"/>
<line x1="51.30" y1="529.26" x2="53.50" y2="529.26" class="t"/>
<line x1="51.30" y1="511.58" x2="53.50" y2="511.58" class="t"/>
<line x1="51.30" y1="502.74" x2="53.50" y2="502.74" class="t"/>
<line x1="51.30" y1="493.90" x2="53.50" y2="493.90" class="t"/>
<line x1="51.30" y1="476.22" x2="53.50" y2="476.22" class="t"/>
<line x1="51.30" y1="467.38" x2="53.50" y2="467.38" class="t"/>
<line x1="51.30" y1="458.54" x2="53.50" y2="458.54" class="t"/>
<rect x="51.30" y="449.70" width="271.20" height="176.80" class="f"/>
<line x1="52.60" y1="449.70" x2="52.60" y2="626.50" stroke="#444" stroke-width="0.6"/>
<text x="12.5" y="426.0" font-size="11.4" text-anchor="start" font-weight="bold" fill="#111">Druckstufe 12 bar / 170 psi</text>
<text transform="translate(48.3 629.4) scale(1.14 1)" font-size="8" text-anchor="end" font-weight="normal" fill="#222" stroke="#222" stroke-width="0.22">0</text>
<text transform="translate(48.3 594.0) scale(1.14 1)" font-size="8" text-anchor="end" font-weight="normal" fill="#222" stroke="#222" stroke-width="0.22">3</text>
<text transform="translate(48.3 558.7) scale(1.14 1)" font-size="8" text-anchor="end" font-weight="normal" fill="#222" stroke="#222" stroke-width="0.22">6</text>
<text transform="translate(48.3 523.3) scale(1.14 1)" font-size="8" text-anchor="end" font-weight="normal" fill="#222" stroke="#222" stroke-width="0.22">9</text>
<text transform="translate(48.3 488.0) scale(1.14 1)" font-size="8" text-anchor="end" font-weight="normal" fill="#222" stroke="#222" stroke-width="0.22">12</text>
<text transform="translate(48.3 452.6) scale(1.14 1)" font-size="8" text-anchor="end" font-weight="normal" fill="#222" stroke="#222" stroke-width="0.22">15</text>
<text transform="translate(66.7 638.5) scale(1.14 1)" font-size="8" text-anchor="middle" font-weight="normal" fill="#222" stroke="#222" stroke-width="0.22">4</text>
<text transform="translate(93.8 638.5) scale(1.14 1)" font-size="8" text-anchor="middle" font-weight="normal" fill="#222" stroke="#222" stroke-width="0.22">2</text>
<text transform="translate(120.9 638.5) scale(1.14 1)" font-size="8" text-anchor="middle" font-weight="normal" fill="#222" stroke="#222" stroke-width="0.22">0</text>
<text transform="translate(148.0 638.5) scale(1.14 1)" font-size="8" text-anchor="middle" font-weight="normal" fill="#222" stroke="#222" stroke-width="0.22">2</text>
<text transform="translate(175.1 638.5) scale(1.14 1)" font-size="8" text-anchor="middle" font-weight="normal" fill="#222" stroke="#222" stroke-width="0.22">4</text>
<text transform="translate(202.3 638.5) scale(1.14 1)" font-size="8" text-anchor="middle" font-weight="normal" fill="#222" stroke="#222" stroke-width="0.22">6</text>
<text transform="translate(229.4 638.5) scale(1.14 1)" font-size="8" text-anchor="middle" font-weight="normal" fill="#222" stroke="#222" stroke-width="0.22">8</text>
<text transform="translate(256.5 638.5) scale(1.14 1)" font-size="8" text-anchor="middle" font-weight="normal" fill="#222" stroke="#222" stroke-width="0.22">10</text>
<text transform="translate(283.6 638.5) scale(1.14 1)" font-size="8" text-anchor="middle" font-weight="normal" fill="#222" stroke="#222" stroke-width="0.22">12</text>
<text transform="translate(310.7 638.5) scale(1.14 1)" font-size="8" text-anchor="middle" font-weight="normal" fill="#222" stroke="#222" stroke-width="0.22">14</text>
<text x="19.2" y="466.9" font-size="6" text-anchor="start" font-weight="bold" fill="#222">p [bar]</text>
<text x="93.8" y="653.1" font-size="6.9" text-anchor="middle" font-weight="bold" fill="#222">1 -&gt; 3</text>
<text x="161.5" y="653.1" font-size="6.9" text-anchor="middle" font-weight="bold" fill="#222">2 -&gt; 1</text>
<text x="289.9" y="652.9" font-size="6.0" text-anchor="start" font-weight="bold" fill="#222">Q</text>
<text x="301.4" y="653.0" font-size="6.0" text-anchor="start" font-weight="bold" fill="#222">[l/min]</text>
<path d="M115.0,483.9 L117.0,483.5 L118.8,483.5 L120.8,484.4 L123.2,484.8 L124.2,486.0 L125.6,486.7 L127.0,488.4 L128.7,488.7 L129.7,489.9 L131.4,490.7 L132.3,491.1 L133.8,492.3 L135.2,493.0 L137.0,494.0 L137.7,493.7 L139.1,495.1 L140.7,495.6 L142.0,496.2 L143.5,497.3 L145.0,497.9 L146.3,498.9 L147.8,499.6 L148.8,500.5 L150.7,501.0 L152.2,501.7 L153.4,502.5 L154.6,502.8 L155.7,503.5 L157.0,503.8 L158.3,505.3 L159.7,505.8 L161.0,506.1 L162.6,506.9 L163.7,507.2 L165.2,507.8 L166.5,509.5 L168.3,509.6 L169.6,511.0 L171.1,511.7 L172.3,511.6 L173.8,512.5 L175.1,512.9 L176.3,513.8 L177.6,513.8 L179.4,514.4 L181.0,514.8 L182.4,515.5 L183.9,515.4 L185.1,516.4 L187.1,516.9 L188.2,518.0 L190.2,517.9 L191.4,518.9 L193.1,519.4 L194.5,519.0 L195.7,519.1 L197.5,519.9 L198.9,521.2 L200.5,521.1 L202.0,521.4 L203.6,521.4 L204.8,521.7 L206.3,522.3 L207.7,522.0 L209.4,523.3 L210.9,522.7 L212.5,522.9 L213.7,523.5 L215.3,524.1 L216.9,524.6 L218.3,525.3 L219.9,525.5 L221.2,525.8 L222.9,526.4 L224.7,526.3 L225.9,525.9 L227.3,527.1 L228.8,527.2 L230.6,527.6 L231.9,527.4 L233.3,528.6 L235.1,528.8 L236.7,528.7 L237.9,528.7 L239.9,529.2 L241.4,529.8 L242.8,529.8 L244.2,530.1 L245.6,530.8 L246.9,530.8 L248.8,531.2 L250.1,532.0 L251.5,531.8 L253.1,532.5 L254.8,533.3 L256.2,533.5 L257.5,533.5 L259.5,533.5 L260.6,534.0 L262.0,534.0 L263.7,533.7 L264.8,534.2 L266.5,534.5 L268.2,534.6 L269.4,535.1 L271.2,536.0 L272.8,535.5 L274.3,536.8 L276.0,537.2 L277.6,537.2 L278.6,537.5 L280.4,537.0 L281.5,537.7 L283.2,537.1 L284.7,538.2 L286.4,538.1 L287.9,538.2 L289.6,538.2 L291.3,538.4 L292.6,539.3 L294.3,538.5 L295.6,539.3 L297.6,539.0 L299.0,539.7 L300.7,539.6 L302.2,539.9" class="c" stroke-width="1.7"/>
<path d="M115.0,483.9 L117.0,485.4 L118.7,485.4 L120.4,485.8 L121.7,486.3 L122.8,487.5 L124.0,487.8 L125.6,489.1 L126.6,489.6 L127.7,490.7 L129.1,491.0 L130.1,491.9 L131.0,493.4 L132.5,494.5 L134.1,495.2 L135.2,495.5 L136.8,497.1 L138.0,497.1 L139.3,498.2 L141.0,498.6 L142.0,499.7 L143.6,501.1 L144.7,501.1 L146.5,502.7 L147.6,503.2 L149.1,503.9 L150.4,504.9 L151.7,505.3 L152.9,506.2 L154.3,507.5 L156.0,507.9 L157.2,509.0 L158.4,509.7 L159.7,511.0 L161.3,510.6 L162.6,512.0 L164.2,512.6 L165.6,513.2 L167.4,513.1 L168.7,513.6 L170.3,515.1 L171.8,515.0 L173.0,516.2 L174.7,515.9 L176.0,516.9 L177.5,517.4 L179.2,517.6 L180.7,518.0 L182.4,518.0 L183.8,518.4 L185.2,519.5 L186.9,519.7 L188.4,519.4 L189.6,520.1 L191.2,520.0 L192.8,521.1 L194.6,521.3 L196.0,521.4 L197.2,521.1 L199.0,521.3 L200.4,521.6 L201.6,522.3 L203.2,523.1 L205.2,523.1 L206.4,523.3 L208.2,524.3 L209.6,524.7 L211.3,525.3 L212.6,524.8 L214.1,525.3 L215.5,526.0 L216.9,525.6 L218.4,526.1 L220.1,526.0 L221.3,526.7 L223.1,526.9 L224.3,527.4 L226.1,527.3 L227.3,528.6 L229.4,528.2 L230.8,529.3 L232.3,529.1 L233.9,530.1 L235.1,529.4 L236.6,529.7 L238.4,530.0 L239.5,531.0 L241.0,530.6 L242.5,531.1 L244.3,532.3 L245.6,531.9 L247.4,532.5 L248.7,532.6 L250.2,533.8 L251.5,533.2 L253.3,534.1 L254.8,533.7 L256.4,534.1 L257.5,534.3 L259.2,534.7 L260.4,534.4 L262.4,534.5 L263.8,535.0 L265.1,535.2 L266.7,536.3 L268.1,536.5 L269.8,536.1 L271.4,536.3 L272.7,536.7 L274.5,537.4 L275.9,536.8 L277.5,537.7 L279.0,538.1 L280.2,538.3 L282.2,538.2 L283.4,538.3 L284.9,538.3 L286.4,538.3 L288.3,538.5 L289.8,539.1 L291.4,538.5 L293.1,539.3 L294.7,539.3 L296.2,539.6 L297.4,539.3 L299.1,539.7 L300.6,539.6 L302.2,539.3" class="c" stroke-width="1.7"/>
<path d="M118.5,485.0 L120.5,485.1 L117.7,485.2 L120.1,484.4 L119.7,482.5 L120.5,484.0 L118.9,483.4 L120.2,484.8 L120.5,483.0 L118.5,483.1 L117.5,483.3 L117.3,484.8" class="c" stroke-width="1.25"/>
<path d="M98.8,486.2 L99.8,486.3 L100.5,488.9 L101.6,489.1 L102.1,489.7 L103.4,491.8 L103.9,491.9 L105.0,493.1 L106.4,494.3 L106.4,494.2 L108.0,494.9 L108.7,495.4 L108.8,495.7 L110.3,496.7 L110.5,497.2 L111.3,499.1 L112.7,500.3 L113.6,500.1 L114.5,500.1 L115.6,501.8 L115.6,503.0 L116.9,502.7 L117.0,504.3 L118.6,504.8 L119.8,504.6 L119.5,505.0 L120.4,507.1 L121.8,506.5 L122.2,507.5 L123.5,509.3 L124.7,509.2 L125.4,510.0 L125.7,510.3 L126.2,512.3 L128.1,513.1 L128.2,513.0 L129.0,514.1 L130.3,514.0 L131.0,516.2 L131.6,517.0 L133.1,517.9 L133.7,519.2 L134.9,518.9 L135.7,520.8 L137.2,521.4 L137.9,520.5 L138.5,521.7 L140.0,521.6 L140.9,523.4 L141.3,522.0 L142.7,523.7 L143.4,524.5 L144.4,524.7 L145.5,526.2 L146.6,526.4 L147.0,526.4 L148.1,528.4 L149.8,528.8 L151.0,530.0 L152.0,529.4 L153.0,529.6 L154.0,530.1 L155.4,531.6 L155.8,532.8 L156.6,533.3 L158.2,532.2 L159.3,533.7 L160.5,534.2 L160.8,534.8 L161.5,534.8 L162.6,534.3 L163.7,536.0 L165.2,536.5 L166.0,536.6 L167.6,536.2 L168.7,538.2 L169.3,538.2 L170.3,537.9 L172.0,539.4 L173.0,538.5 L173.6,539.7 L174.7,538.9 L175.9,539.0 L177.2,539.6 L177.4,540.4 L178.5,540.4 L179.4,541.2 L180.8,540.7 L181.6,540.8 L183.1,540.7 L184.8,540.8 L185.5,541.1 L186.9,542.9 L187.4,542.6 L189.0,543.5 L190.4,543.2 L191.8,543.3 L192.0,544.5 L193.2,543.8 L194.9,544.7 L195.7,546.3 L197.4,546.7 L198.3,547.3 L199.2,547.2 L200.9,548.0 L202.3,547.7 L202.9,548.0 L204.0,546.8 L205.4,548.2 L206.1,547.9 L206.7,547.5 L208.3,548.6 L209.4,547.1 L210.3,548.2 L211.0,547.3 L211.8,548.2 L213.6,548.6 L214.6,549.6 L216.1,549.8 L216.4,550.4 L217.7,550.8 L219.3,549.1 L219.9,550.9 L220.7,550.0 L221.7,549.2 L222.5,549.2 L223.7,550.4 L225.0,551.2 L226.2,550.2 L227.5,550.9 L228.2,551.5 L229.3,550.6 L230.5,550.9 L232.0,551.2 L233.3,551.6 L233.6,553.0 L235.0,553.5 L236.0,554.3 L237.7,554.2 L239.0,555.1 L239.8,554.6 L239.9,553.0 L241.3,554.8 L242.2,554.0 L243.2,554.3 L245.2,554.9 L246.1,553.9 L246.7,554.6 L248.5,554.7 L249.8,555.7 L250.8,556.2 L251.0,556.8 L252.4,556.8 L253.2,557.4 L255.0,555.9 L256.1,556.7 L256.6,557.0 L258.2,558.3 L259.8,558.9 L260.6,558.4 L261.2,558.6 L262.8,558.3 L264.1,557.9 L264.5,557.7 L265.7,558.9 L267.5,558.3 L268.3,559.3 L269.4,559.0 L270.5,558.3 L271.3,559.6 L272.7,560.6 L273.8,560.8 L274.9,559.5 L276.0,559.8 L277.3,561.2 L278.3,561.3 L279.9,560.7 L280.5,560.5" class="c" stroke-width="1.5"/>
<path d="M116.4,503.9 L116.8,503.6 L117.4,504.8 L118.8,506.7 L120.0,508.0 L120.5,508.0 L121.2,509.9 L121.9,509.1 L122.8,511.3 L124.2,511.4 L125.1,513.3 L125.4,512.6 L126.4,513.6 L126.6,515.3 L127.6,515.1 L128.7,515.9 L128.9,516.8 L129.9,516.6 L130.7,518.8 L131.4,519.4 L132.6,519.6 L133.0,521.2 L134.3,520.7 L134.8,522.4 L136.5,522.2 L137.1,523.4 L137.8,523.1 L138.8,524.9 L139.9,525.4 L140.6,525.8 L141.5,526.4 L142.5,528.0 L143.0,528.5 L144.0,528.9 L144.9,528.9 L145.8,528.4 L147.1,530.0 L147.8,530.7 L149.1,531.6 L149.8,531.1 L151.0,532.0 L152.7,533.0 L153.5,532.7 L154.9,532.8 L155.4,534.4 L156.5,535.0 L157.1,534.4 L158.2,533.9 L159.1,534.4 L160.6,535.9 L162.0,536.3 L163.0,536.7 L164.3,536.5 L165.0,537.6 L166.0,538.7 L166.9,539.2 L168.0,538.3 L169.2,539.0 L170.0,538.6 L171.8,539.7 L172.2,540.8 L173.6,540.7 L174.4,541.6 L175.6,541.2 L177.1,541.0 L177.8,541.1 L179.1,542.2 L180.0,541.9 L181.1,543.1 L182.4,543.5 L183.5,543.7 L184.5,543.5 L186.3,544.3 L187.1,544.0 L187.9,543.4 L188.6,544.3 L190.4,544.2 L191.4,544.0 L192.5,544.3 L193.6,544.9 L194.9,545.0 L196.0,546.3 L196.9,546.2 L198.4,546.7 L199.4,547.2 L200.3,546.1 L201.4,547.6 L202.7,547.8 L203.7,547.6 L205.1,548.0 L206.0,547.2 L207.2,547.7 L208.6,549.6 L209.4,548.4 L210.5,548.3 L211.4,548.8 L211.8,549.6 L213.1,549.4 L214.4,549.2 L215.9,549.3 L217.0,549.7 L217.4,550.0 L218.7,550.2 L220.6,551.0 L221.3,551.6 L222.5,553.0 L224.1,553.0 L225.4,552.7 L226.2,552.5 L227.2,553.3 L228.1,552.3 L228.5,553.7 L229.9,553.0 L231.1,552.2 L232.0,552.7 L233.1,552.9 L233.7,554.1 L234.8,553.8 L236.4,553.1 L237.4,553.7 L238.0,553.6 L239.8,554.2 L240.4,554.4 L241.1,555.2 L242.9,555.7 L243.7,554.8 L244.8,556.1 L246.3,555.9 L247.2,555.6 L248.7,556.4 L249.5,557.4 L250.4,557.6 L251.5,557.8 L252.2,556.8 L253.7,557.2 L254.6,557.7 L255.7,557.9 L256.5,558.4 L257.9,558.8 L259.3,558.4 L260.5,557.8 L261.7,558.2 L262.8,559.1 L263.7,559.0 L264.6,559.1 L266.2,558.3 L266.6,558.9 L268.0,558.5 L269.0,560.1 L270.3,559.2 L271.4,560.3 L272.5,560.2 L273.9,560.3 L275.0,561.2 L275.6,561.4 L276.8,559.7 L278.2,560.5 L279.2,560.1 L280.5,561.1" class="c" stroke-width="1.45"/>
<path d="M51.3,516.9 L53.3,517.6 L54.8,517.7 L56.6,517.3 L57.9,519.3 L59.3,520.1 L60.8,520.3 L62.4,521.6 L63.5,523.4 L64.5,523.7 L66.0,525.1 L67.2,525.7 L68.6,526.6 L69.8,527.9 L71.4,528.9 L72.8,530.2 L73.9,531.2 L75.6,532.2 L77.0,533.6 L78.5,535.3 L79.8,537.3 L80.8,537.4 L82.5,539.2 L83.8,539.9 L85.0,540.9 L86.3,541.6 L87.7,542.3 L88.9,543.5 L90.3,544.7 L91.9,544.7 L93.0,546.2 L94.7,547.8 L96.0,548.7 L97.8,549.8 L99.1,551.6 L100.3,552.6 L101.2,553.6 L103.0,554.4 L104.5,556.0 L105.7,557.1 L106.6,558.1 L108.1,558.3 L109.8,559.3 L111.1,560.9 L112.1,561.3 L113.4,562.1 L115.2,563.5 L116.2,563.8 L117.6,565.6 L118.2,567.1 L119.2,569.1 L120.8,568.0 L122.2,567.2 L123.4,566.8 L125.4,565.9 L126.8,564.5 L127.1,565.7 L127.6,568.0 L128.2,569.8 L128.5,570.6 L128.9,572.4 L129.0,573.8 L129.9,576.2 L130.3,577.6 L131.1,577.8 L132.6,578.8 L134.0,579.7 L135.2,581.1 L136.5,581.9 L137.9,582.5 L139.3,582.6 L140.8,583.2 L142.1,584.2 L143.2,585.4 L144.7,584.9 L146.5,586.0 L147.3,586.4 L148.5,587.7 L150.2,588.2 L151.4,588.7 L153.2,589.7 L154.6,591.0 L155.4,591.6 L156.8,592.3 L158.6,593.0 L159.8,593.9 L161.1,594.1 L162.7,594.7 L164.1,595.6 L165.8,596.4 L167.3,596.7 L169.0,597.6 L170.2,597.6 L172.0,598.4 L172.9,598.9 L174.8,600.1 L176.3,600.3 L177.9,600.9 L179.3,601.3 L181.0,601.7 L182.1,602.5 L184.0,602.6 L185.6,604.2 L186.7,603.7 L188.5,604.4 L190.3,605.6 L191.5,605.7 L193.2,605.4 L194.9,605.8 L195.8,606.2 L197.2,606.5 L199.1,607.1" class="c" stroke-width="1.75"/>
<path d="M117.7,565.2 L118.3,566.3 L118.4,567.7 L118.6,569.4 L118.8,570.4 L120.3,571.6 L121.1,571.8 L122.4,573.1 L123.3,573.7 L124.4,573.9 L125.7,574.0 L126.4,574.7 L127.4,575.5 L128.7,576.5 L129.6,577.6 L130.9,577.8 L132.3,579.5 L133.1,580.5 L134.5,580.6 L135.1,581.9 L136.5,581.7 L137.5,582.9 L138.4,583.6 L139.5,583.6 L140.5,584.8 L141.3,585.0 L142.6,585.9 L143.6,586.0 L144.4,586.8 L145.5,587.7 L147.0,587.9 L148.0,589.0 L148.7,589.6 L150.1,589.7 L151.0,590.3 L152.5,591.3 L153.6,591.5 L154.2,592.0 L155.7,592.5 L156.5,593.7 L157.6,594.1 L158.6,594.2 L160.0,595.3 L161.1,595.4 L162.1,595.7 L163.3,596.5 L164.6,596.8 L165.7,597.2 L166.6,597.2 L167.9,597.5 L169.1,597.8 L170.0,598.6 L171.4,599.6 L172.3,600.0 L173.7,601.4 L174.3,602.0 L175.4,602.8 L175.9,603.6 L176.9,605.3 L177.6,603.8 L178.9,602.9 L179.5,602.3 L181.0,602.5 L181.8,603.2 L183.4,604.2 L184.7,604.2 L185.8,604.8 L187.1,605.7 L188.4,605.9 L189.6,605.5 L190.9,605.4 L192.0,605.9 L193.2,605.9 L194.4,605.4 L195.5,606.2 L196.6,606.6 L197.7,606.6 L199.1,606.5" class="c" stroke-width="1.45"/>
<path d="M51.3,607.4 L52.8,607.9 L54.3,608.3 L55.8,608.8 L57.4,609.4 L58.9,609.9 L60.4,610.5 L61.9,610.9 L63.4,611.3 L64.9,611.9 L66.4,612.3 L67.8,612.7 L69.3,613.3 L70.8,613.6 L72.4,614.2 L73.9,614.5 L75.4,615.0 L76.9,615.5 L78.4,616.0 L79.9,616.3 L81.5,616.6 L83.0,616.9 L84.5,617.2 L86.0,617.7 L87.5,618.0 L88.9,618.5 L90.5,618.9 L92.0,619.1 L93.5,619.3 L95.0,619.5 L96.5,619.8 L98.0,620.1 L99.5,620.3 L101.0,620.4 L102.5,620.8 L104.1,620.9 L105.5,621.2 L107.0,621.4 L108.6,621.5 L110.0,621.7 L111.5,621.9 L113.0,621.9 L114.5,622.2 L116.1,622.5 L117.6,622.5 L119.1,622.7" class="c" stroke-width="1.4"/>
<path d="M124.5,626.5 L126.1,626.3 L127.8,626.0 L129.5,625.7 L130.9,625.4 L132.6,625.2 L134.1,624.9 L135.7,624.7 L137.2,624.5 L138.7,624.2 L140.1,623.8 L141.6,623.5 L143.2,623.2 L144.6,622.8 L146.2,622.6 L147.7,622.1 L149.1,621.8 L150.7,621.7 L152.2,621.4 L153.7,621.1 L155.3,620.9 L156.8,620.6 L158.3,620.4 L159.8,620.0 L161.5,619.3 L163.2,618.6 L164.9,617.9 L166.6,617.1 L168.3,616.5 L169.9,616.2 L171.6,615.6 L173.3,615.0 L174.8,614.4 L176.4,614.1 L177.8,613.4 L179.4,612.8 L180.9,612.3 L182.3,611.6 L183.9,611.2 L185.4,610.5 L186.9,610.0 L188.7,610.0 L190.2,609.7 L192.1,609.6 L193.7,609.3 L195.0,607.1 L196.8,606.9 L198.7,606.5 L200.5,606.3 L202.0,605.5 L203.5,604.9 L204.9,604.4 L206.5,603.5 L207.9,602.9 L209.5,602.3 L210.9,601.8 L212.4,601.2 L214.0,600.7 L215.9,599.7 L217.6,598.9 L219.4,598.2 L220.1,596.7 L220.8,595.2 L222.5,594.5 L224.2,593.8 L226.0,593.1 L227.6,592.4 L228.9,591.7 L230.3,590.9 L231.7,590.3 L233.0,589.5 L234.4,588.8 L235.7,588.1 L237.1,587.4 L238.5,586.7 L239.8,586.1 L241.2,585.4 L242.5,584.7 L243.9,583.9 L245.2,583.1 L246.5,582.6 L247.9,581.8 L249.3,581.0 L250.6,580.2 L252.0,579.7 L253.4,578.8 L254.7,578.2 L256.0,577.1 L257.4,576.2 L258.8,575.1 L260.1,574.0 L260.8,572.0 L261.5,570.0 L262.9,569.4 L264.2,568.4 L265.5,567.7 L266.8,567.0 L268.3,566.4 L269.6,565.6 L271.0,565.0 L272.3,564.2 L273.8,563.6 L275.1,562.9 L276.5,562.2 L277.8,561.5 L279.1,560.8 L280.6,560.3 L281.9,559.4 L282.9,558.1 L284.0,557.1 L285.2,555.8 L286.3,554.6 L287.5,553.5 L288.6,552.1 L289.6,551.1 L290.5,549.8 L291.5,548.6 L292.4,547.4 L293.4,546.3 L294.4,545.2 L295.4,544.0 L296.4,542.8 L297.6,541.6 L298.7,540.5 L300.0,539.2 L301.0,538.2 L302.2,536.8 L303.5,535.8 L304.9,534.5 L306.2,533.3 L307.5,532.1 L308.9,530.9 L310.3,530.2 L311.7,529.4 L313.0,528.4 L314.4,527.9 L315.8,527.0 L317.1,525.9 L318.5,524.8 L319.8,523.7 L321.1,522.7 L322.5,521.6" class="c" stroke-width="1.45"/>
<text x="139.5" y="491.5" font-size="6.35" text-anchor="start" font-weight="normal" fill="#2b2626" transform="rotate(21.5 139.5 491.5)" stroke="#2b2626" stroke-width="0.12">0 % max. Steuerstrom</text>
<text x="139.5" y="517.0" font-size="6.35" text-anchor="start" font-weight="normal" fill="#2b2626" transform="rotate(20.5 139.5 517.0)" stroke="#2b2626" stroke-width="0.12">40 % max. Steuerstrom</text>
<text x="142.0" y="571.8" font-size="6.35" text-anchor="start" font-weight="normal" fill="#2b2626" transform="rotate(20.5 142.0 571.8)" stroke="#2b2626" stroke-width="0.12">60 % max. Steuerstrom</text>
<text x="63.5" y="602.8" font-size="6.6" text-anchor="start" font-weight="normal" fill="#2c4250">Druckverlust A<tspan dx="-0.9" font-size="6.2">→</tspan><tspan dx="-0.9">T</tspan></text>
<text x="243.5" y="600.8" font-size="6.6" text-anchor="start" font-weight="normal" fill="#2c4250">Druckverlust P<tspan dx="-0.9" font-size="6.2">→</tspan><tspan dx="-0.9">A</tspan></text>
<line x1="418.50" y1="450.20" x2="418.50" y2="624.10" class="g"/>
<line x1="445.50" y1="450.20" x2="445.50" y2="624.10" class="g"/>
<line x1="471.50" y1="450.20" x2="471.50" y2="624.10" class="g"/>
<line x1="498.50" y1="450.20" x2="498.50" y2="624.10" class="g"/>
<line x1="525.50" y1="450.20" x2="525.50" y2="624.10" class="g"/>
<line x1="552.50" y1="450.20" x2="552.50" y2="624.10" class="g"/>
<line x1="578.50" y1="450.20" x2="578.50" y2="624.10" class="g"/>
<line x1="605.50" y1="450.20" x2="605.50" y2="624.10" class="g"/>
<line x1="632.50" y1="450.20" x2="632.50" y2="624.10" class="g"/>
<line x1="659.50" y1="450.20" x2="659.50" y2="624.10" class="g"/>
<line x1="404.90" y1="595.50" x2="672.50" y2="595.50" class="g"/>
<line x1="404.90" y1="566.50" x2="672.50" y2="566.50" class="g"/>
<line x1="404.90" y1="537.50" x2="672.50" y2="537.50" class="g"/>
<line x1="404.90" y1="508.50" x2="672.50" y2="508.50" class="g"/>
<line x1="404.90" y1="479.50" x2="672.50" y2="479.50" class="g"/>
<line x1="431.66" y1="624.10" x2="431.66" y2="622.10" class="t"/>
<line x1="458.42" y1="624.10" x2="458.42" y2="622.10" class="t"/>
<line x1="485.18" y1="624.10" x2="485.18" y2="622.10" class="t"/>
<line x1="511.94" y1="624.10" x2="511.94" y2="622.10" class="t"/>
<line x1="538.70" y1="624.10" x2="538.70" y2="622.10" class="t"/>
<line x1="565.46" y1="624.10" x2="565.46" y2="622.10" class="t"/>
<line x1="592.22" y1="624.10" x2="592.22" y2="622.10" class="t"/>
<line x1="618.98" y1="624.10" x2="618.98" y2="622.10" class="t"/>
<line x1="645.74" y1="624.10" x2="645.74" y2="622.10" class="t"/>
<line x1="404.90" y1="616.85" x2="407.10" y2="616.85" class="t"/>
<line x1="404.90" y1="609.61" x2="407.10" y2="609.61" class="t"/>
<line x1="404.90" y1="602.36" x2="407.10" y2="602.36" class="t"/>
<line x1="404.90" y1="587.87" x2="407.10" y2="587.87" class="t"/>
<line x1="404.90" y1="580.62" x2="407.10" y2="580.62" class="t"/>
<line x1="404.90" y1="573.38" x2="407.10" y2="573.38" class="t"/>
<line x1="404.90" y1="558.89" x2="407.10" y2="558.89" class="t"/>
<line x1="404.90" y1="551.64" x2="407.10" y2="551.64" class="t"/>
<line x1="404.90" y1="544.40" x2="407.10" y2="544.40" class="t"/>
<line x1="404.90" y1="529.90" x2="407.10" y2="529.90" class="t"/>
<line x1="404.90" y1="522.66" x2="407.10" y2="522.66" class="t"/>
<line x1="404.90" y1="515.41" x2="407.10" y2="515.41" class="t"/>
<line x1="404.90" y1="500.92" x2="407.10" y2="500.92" class="t"/>
<line x1="404.90" y1="493.68" x2="407.10" y2="493.68" class="t"/>
<line x1="404.90" y1="486.43" x2="407.10" y2="486.43" class="t"/>
<line x1="404.90" y1="471.94" x2="407.10" y2="471.94" class="t"/>
<line x1="404.90" y1="464.69" x2="407.10" y2="464.69" class="t"/>
<line x1="404.90" y1="457.45" x2="407.10" y2="457.45" class="t"/>
<rect x="404.90" y="450.20" width="267.60" height="173.90" class="f"/>
<line x1="406.20" y1="450.20" x2="406.20" y2="624.10" stroke="#444" stroke-width="0.6"/>
<text x="362.4" y="426.0" font-size="11.4" text-anchor="start" font-weight="bold" fill="#111">Druckstufe 50 bar / 720 psi</text>
<text transform="translate(401.9 627.0) scale(1.14 1)" font-size="8" text-anchor="end" font-weight="normal" fill="#222" stroke="#222" stroke-width="0.22">0</text>
<text transform="translate(401.9 598.0) scale(1.14 1)" font-size="8" text-anchor="end" font-weight="normal" fill="#222" stroke="#222" stroke-width="0.22">10</text>
<text transform="translate(401.9 569.0) scale(1.14 1)" font-size="8" text-anchor="end" font-weight="normal" fill="#222" stroke="#222" stroke-width="0.22">20</text>
<text transform="translate(401.9 540.0) scale(1.14 1)" font-size="8" text-anchor="end" font-weight="normal" fill="#222" stroke="#222" stroke-width="0.22">30</text>
<text transform="translate(401.9 511.1) scale(1.14 1)" font-size="8" text-anchor="end" font-weight="normal" fill="#222" stroke="#222" stroke-width="0.22">40</text>
<text transform="translate(401.9 482.1) scale(1.14 1)" font-size="8" text-anchor="end" font-weight="normal" fill="#222" stroke="#222" stroke-width="0.22">50</text>
<text transform="translate(401.9 453.1) scale(1.14 1)" font-size="8" text-anchor="end" font-weight="normal" fill="#222" stroke="#222" stroke-width="0.22">60</text>
<text transform="translate(420.1 636.1) scale(1.14 1)" font-size="8" text-anchor="middle" font-weight="normal" fill="#222" stroke="#222" stroke-width="0.22">4</text>
<text transform="translate(446.8 636.1) scale(1.14 1)" font-size="8" text-anchor="middle" font-weight="normal" fill="#222" stroke="#222" stroke-width="0.22">2</text>
<text transform="translate(473.6 636.1) scale(1.14 1)" font-size="8" text-anchor="middle" font-weight="normal" fill="#222" stroke="#222" stroke-width="0.22">0</text>
<text transform="translate(500.4 636.1) scale(1.14 1)" font-size="8" text-anchor="middle" font-weight="normal" fill="#222" stroke="#222" stroke-width="0.22">2</text>
<text transform="translate(527.1 636.1) scale(1.14 1)" font-size="8" text-anchor="middle" font-weight="normal" fill="#222" stroke="#222" stroke-width="0.22">4</text>
<text transform="translate(553.9 636.1) scale(1.14 1)" font-size="8" text-anchor="middle" font-weight="normal" fill="#222" stroke="#222" stroke-width="0.22">6</text>
<text transform="translate(580.6 636.1) scale(1.14 1)" font-size="8" text-anchor="middle" font-weight="normal" fill="#222" stroke="#222" stroke-width="0.22">8</text>
<text transform="translate(607.4 636.1) scale(1.14 1)" font-size="8" text-anchor="middle" font-weight="normal" fill="#222" stroke="#222" stroke-width="0.22">10</text>
<text transform="translate(634.2 636.1) scale(1.14 1)" font-size="8" text-anchor="middle" font-weight="normal" fill="#222" stroke="#222" stroke-width="0.22">12</text>
<text transform="translate(660.9 636.1) scale(1.14 1)" font-size="8" text-anchor="middle" font-weight="normal" fill="#222" stroke="#222" stroke-width="0.22">14</text>
<text x="372.1" y="462.7" font-size="6" text-anchor="start" font-weight="bold" fill="#222">p [bar]</text>
<text x="444.6" y="652.4" font-size="6.9" text-anchor="middle" font-weight="bold" fill="#222">1 -&gt; 3</text>
<text x="518.7" y="652.4" font-size="6.9" text-anchor="middle" font-weight="bold" fill="#222">2 -&gt; 1</text>
<text x="645.1" y="652.2" font-size="6.0" text-anchor="start" font-weight="bold" fill="#222">Q</text>
<text x="655.9" y="652.3" font-size="6.0" text-anchor="start" font-weight="bold" fill="#222">[l/min]</text>
<path d="M471.8,476.3 L473.2,477.1 L474.9,478.7 L475.9,480.2 L476.5,481.3 L477.8,483.1 L478.6,483.6 L479.6,485.9 L481.0,487.5 L481.6,488.1 L483.2,489.4 L484.3,490.3 L484.9,492.4 L487.1,492.6 L489.2,493.1 L490.9,492.5 L492.2,490.5 L493.5,489.2 L494.7,491.7 L496.0,492.2 L497.5,493.2 L498.8,494.6 L499.6,495.8 L500.8,496.5 L502.3,496.9 L503.3,498.6 L504.8,498.6 L505.9,500.0 L507.3,500.6 L508.1,501.4 L509.7,502.5 L510.7,503.4 L511.8,504.1 L513.5,504.5 L514.9,505.1 L516.0,506.3 L517.1,507.5 L518.6,507.4 L519.9,508.4 L521.1,508.3 L522.3,509.9 L523.7,510.2 L525.5,511.7 L527.1,511.8 L528.1,513.1 L529.9,513.2 L531.0,513.8 L532.6,514.5 L534.5,514.7 L535.3,515.6 L536.8,515.6 L538.5,517.1 L539.9,516.8 L541.6,517.3 L543.2,518.7 L544.6,519.3 L546.0,519.0 L547.8,519.9 L549.4,519.8 L550.9,521.2 L552.2,521.2 L553.8,522.2 L555.1,522.2 L556.8,522.9 L558.1,522.8 L559.7,523.8 L561.4,524.6 L562.7,524.2 L563.9,525.0 L565.8,525.0 L567.2,526.1 L568.6,526.4 L570.0,526.2 L571.9,526.2 L572.9,527.0 L574.3,526.6 L576.0,527.4 L577.6,527.9 L579.1,527.1 L580.4,527.0 L582.1,526.9 L584.0,527.9 L585.5,528.2 L587.2,528.3 L588.9,528.2 L590.7,527.7 L592.5,527.4 L593.8,527.8 L595.7,527.8 L596.8,527.5 L598.8,528.1 L600.1,527.8 L601.9,527.5 L603.6,527.4 L605.7,528.4 L607.5,528.9 L609.0,528.7 L610.3,530.1 L612.4,530.4 L613.9,530.1 L616.0,530.6 L617.1,530.4 L619.0,530.2 L620.9,531.7 L622.4,531.3 L623.6,531.8 L625.2,532.9 L626.7,533.3 L627.6,532.5 L629.0,533.7 L631.0,533.9 L632.1,534.7 L633.7,534.7 L635.1,535.8 L636.8,535.8 L638.5,535.9 L640.1,536.3 L641.4,536.5 L642.3,536.4 L643.7,535.9 L645.4,537.2 L646.8,536.9 L648.4,538.0 L650.1,537.9 L651.7,538.4 L653.1,538.3 L655.0,539.0 L656.5,538.7 L657.9,539.4 L659.2,539.1 L660.6,538.9 L661.8,539.4 L663.3,539.3 L665.0,540.2 L666.5,540.1 L668.1,541.2 L669.7,541.0 L671.3,541.8 L672.5,541.8" class="c" stroke-width="1.7"/>
<path d="M471.8,476.3 L471.9,478.2 L472.4,480.2 L473.7,480.6 L475.8,483.1 L476.7,483.7 L477.8,485.5 L479.0,487.1 L479.9,487.8 L481.0,489.3 L482.1,490.4 L483.5,491.8 L484.3,493.8 L485.3,494.4 L486.8,494.5 L487.7,495.6 L489.5,495.9 L490.8,496.7 L492.3,496.8 L493.6,497.6 L495.2,497.3 L497.0,497.9 L498.1,498.9 L499.7,499.2 L500.4,501.0 L501.6,501.6 L503.2,502.8 L504.5,503.2 L505.8,504.5 L506.9,505.6 L508.2,506.7 L509.1,507.2 L510.5,508.3 L511.6,510.5 L513.4,511.3 L514.6,511.4 L516.2,511.6 L517.7,513.6 L519.5,514.0 L520.8,514.9 L522.5,515.3 L523.6,516.6 L525.1,516.6 L526.7,517.5 L528.4,517.7 L529.7,517.7 L531.4,518.6 L532.6,519.4 L534.4,519.9 L536.0,519.5 L537.2,520.4 L538.5,521.2 L540.4,520.8 L541.6,522.0 L543.3,521.8 L544.4,522.3 L546.2,523.1 L547.4,522.6 L549.4,522.8 L550.7,523.3 L552.3,524.2 L553.8,524.1 L555.2,524.5 L556.2,524.7 L557.9,525.7 L559.8,525.9 L561.3,526.2 L562.6,527.2 L564.0,527.7 L565.6,527.7 L567.4,528.2 L568.6,527.5 L570.1,527.8 L572.1,528.8 L574.0,528.9 L575.1,528.9 L577.1,528.6 L579.0,529.1 L580.1,528.7 L581.9,529.3 L583.9,529.7 L585.3,528.9 L587.6,529.2 L588.9,530.0 L590.3,529.7 L592.4,529.3 L593.8,528.7 L595.4,529.2 L597.1,529.1 L598.5,529.2 L600.5,529.2 L601.8,529.5 L603.9,530.0 L605.4,530.8 L607.1,530.3 L608.5,531.2 L609.7,530.6 L611.3,531.4 L613.0,530.9 L614.4,531.2 L615.8,532.0 L617.0,531.9 L618.8,532.4 L620.6,532.8 L622.0,532.9 L623.3,533.7 L625.0,533.8 L626.6,534.4 L627.9,534.6 L629.7,535.9 L631.3,535.7 L632.4,536.7 L633.7,537.1 L635.7,536.8 L637.1,537.6 L638.5,537.6 L640.4,538.3 L641.7,537.8 L642.8,538.0 L644.2,538.7 L646.0,539.2 L647.4,539.3 L648.8,539.0 L650.0,538.8 L651.9,539.1 L652.9,539.2 L654.4,539.7 L656.2,539.9 L658.0,540.6 L659.0,540.1 L661.0,541.3 L662.5,541.5 L663.6,541.7 L665.6,542.2 L666.6,541.9 L668.6,542.8 L669.5,543.0 L671.4,543.3 L672.5,542.9" class="c" stroke-width="1.7"/>
<path d="M429.7,477.4 L430.1,478.9 L430.5,480.5 L430.9,482.4 L431.5,483.3 L432.4,481.9 L433.2,479.7 L433.7,478.1 L434.3,479.6 L434.5,481.1 L434.9,482.5 L435.3,483.8 L435.6,485.0 L436.0,483.6 L436.9,482.5 L437.5,480.4 L438.1,479.3 L439.2,478.0 L440.5,476.7 L441.7,475.3 L442.4,474.0 L442.7,476.2 L443.3,477.4 L443.6,479.2 L443.7,480.7 L444.2,482.2 L444.2,483.8 L445.8,485.2 L446.7,486.2 L447.9,488.4 L448.8,489.4 L449.8,490.7 L450.8,492.2 L451.9,493.9 L454.0,495.2 L455.9,495.9 L457.3,496.2 L458.2,498.5 L460.3,498.8 L461.9,499.4 L463.6,500.0 L465.0,500.8 L466.1,502.2 L466.5,503.8 L466.5,505.0 L466.7,507.0 L466.8,508.2 L467.0,509.2 L468.4,509.8 L470.3,510.6 L471.6,510.2 L472.9,511.7 L474.0,512.5 L475.2,512.9 L476.9,514.4 L477.8,515.4 L479.4,516.2 L480.3,516.9 L481.6,517.7 L482.9,519.0 L483.8,519.6 L485.0,521.3 L486.5,521.6 L487.6,522.7 L488.7,523.2 L490.2,524.2 L491.4,525.0 L492.3,526.1 L493.7,527.2 L495.1,528.1 L496.0,528.1 L497.5,529.6 L498.7,530.2 L500.1,531.7 L501.0,532.5 L502.4,533.9 L503.8,535.0 L505.3,536.2 L506.8,537.0 L508.3,537.4 L509.5,538.5 L510.9,540.0 L512.2,540.7 L513.5,541.8 L515.3,542.5 L516.5,543.1 L518.1,543.7 L519.6,543.8 L520.9,544.9 L522.4,545.0 L524.1,545.3 L525.1,546.4 L526.4,547.5 L527.8,548.4 L529.3,548.5 L530.8,549.8 L532.0,550.6 L533.4,551.7 L534.7,552.0 L536.0,552.6 L537.4,553.0 L538.7,554.4 L540.1,554.9 L541.2,555.1 L542.5,556.4 L544.3,557.5 L545.4,558.3 L547.0,558.7 L548.5,559.2 L549.4,560.0 L551.0,560.6 L551.9,561.5 L553.4,561.4 L554.8,562.0 L556.6,562.6 L558.1,563.3 L559.2,564.4 L560.9,564.7 L562.8,564.8 L563.9,565.5 L565.4,566.7 L566.9,566.0 L568.4,567.1 L569.9,567.5 L571.7,567.9 L572.9,568.6 L574.2,568.8 L576.0,568.7 L577.5,569.6 L579.1,570.3 L580.6,570.6 L581.7,570.4 L583.5,571.7 L584.6,571.7 L586.3,572.2 L587.9,572.4 L589.2,572.8 L590.5,573.3 L592.2,573.6 L593.7,574.1 L595.0,574.7 L596.4,574.3 L598.4,575.5 L599.6,575.8 L600.8,576.0 L602.5,575.5 L604.2,575.8 L605.7,575.9 L607.1,576.8 L608.8,577.2 L610.8,577.9 L612.6,578.5 L614.4,577.9 L616.2,579.0 L617.7,578.9 L619.1,578.8 L620.8,578.7 L622.7,578.8 L624.3,578.9 L625.9,578.3 L627.6,578.8 L629.1,578.6 L630.8,578.8 L632.5,579.0 L633.9,578.7 L635.9,578.3 L637.4,578.7 L639.1,578.4 L640.6,578.2 L642.4,577.7 L644.0,577.9 L645.6,577.6 L647.2,577.7 L649.3,577.9 L651.0,578.3 L652.4,578.2 L653.9,578.3 L656.0,577.5 L657.6,577.8 L659.3,577.3 L661.1,577.6 L662.2,577.6 L664.3,576.9 L665.8,577.5 L667.6,576.6 L669.3,576.8 L670.8,577.1 L672.5,577.1" class="c" stroke-width="1.7"/>
<path d="M430.3,477.7 L432.5,478.7 L433.7,478.7 L435.6,478.0 L437.0,479.0 L438.9,480.0 L441.2,480.5 L441.9,482.5 L443.1,483.4 L444.1,485.2 L445.4,486.9 L446.8,487.4 L447.7,488.1 L448.9,489.5 L450.3,490.9 L451.1,492.3 L452.1,493.1 L453.1,494.4 L453.5,496.2 L454.9,497.9 L455.5,498.4 L457.5,498.8 L459.5,500.1 L461.1,500.2 L462.0,501.8 L463.5,502.9 L464.3,503.8 L465.5,505.9 L467.5,505.1 L469.1,503.5 L469.7,505.4 L470.3,506.6 L470.9,508.6 L471.9,509.5 L473.0,510.3 L473.7,511.5 L475.1,512.1 L476.2,513.7 L477.5,514.7 L478.2,515.5 L479.8,517.1 L480.9,517.8 L481.7,518.8 L483.1,520.3 L483.8,521.3 L484.9,522.0 L486.3,523.4 L487.8,524.2 L488.7,524.4 L490.1,525.9 L491.0,527.0 L492.7,527.3 L493.7,528.5 L495.0,529.2 L496.0,530.1 L497.2,530.2 L498.4,531.5 L499.6,532.3 L500.8,533.1 L502.4,534.5 L503.7,535.7 L504.8,536.3 L506.5,537.6 L507.8,538.2 L509.5,539.7 L510.7,540.4 L511.9,541.9 L513.5,542.8 L515.2,543.4 L516.6,544.2 L517.8,545.0 L519.6,545.4 L520.9,545.5 L522.5,546.6 L523.9,546.7 L525.4,548.0 L526.8,548.9 L527.9,549.6 L529.1,550.0 L530.8,550.3 L532.1,551.9 L533.7,552.0 L534.9,553.6 L535.9,554.2 L537.7,554.4 L538.7,555.1 L540.0,556.0 L541.6,557.3 L542.8,557.8 L544.0,558.1 L545.1,558.6 L546.5,558.9 L548.2,559.5 L549.2,560.5 L550.6,560.6 L551.8,562.2 L553.6,562.2 L555.1,563.0 L556.8,563.0 L557.8,563.4 L559.4,564.7 L561.1,564.3 L562.5,565.2 L564.1,565.8 L565.4,565.8 L566.9,566.8 L568.5,567.5 L570.0,568.1 L572.0,568.6 L573.1,569.2 L574.7,569.7 L575.9,570.1 L577.3,570.3 L578.5,570.0 L580.0,570.3 L581.7,570.1 L583.3,570.7 L584.8,572.1 L586.1,572.3 L587.7,572.1 L589.2,572.1 L590.6,573.1 L592.0,572.8 L593.2,573.6 L595.1,574.4 L596.3,574.6 L598.3,574.8 L599.8,576.2 L601.3,576.2 L602.7,576.7 L604.1,576.6 L605.5,576.8 L607.4,577.2 L609.0,577.6 L610.5,577.9 L612.0,577.6 L613.4,578.1 L614.9,578.3 L616.3,578.2 L618.1,578.3 L619.7,578.8 L621.6,578.4 L623.1,579.2 L624.3,578.7 L625.8,579.3 L627.6,579.4 L629.4,579.5 L630.9,579.7 L632.2,579.8 L633.7,579.4 L635.8,579.4 L637.0,579.5 L638.6,579.8 L640.2,579.2 L642.0,579.8 L643.2,579.4 L645.1,579.1 L646.7,578.7 L648.1,578.9 L649.6,579.2 L651.1,578.9 L652.9,578.5 L654.3,578.1 L656.1,577.6 L657.3,577.5 L659.0,577.8 L661.0,578.3 L662.4,577.8 L664.0,578.2 L665.9,577.5 L667.7,577.2 L669.0,577.6 L671.2,577.4 L672.5,577.4" class="c" stroke-width="1.7"/>
<path d="M404.9,480.6 L406.0,481.5 L407.2,483.0 L408.3,484.3 L409.4,485.3 L410.3,486.4 L411.6,486.8 L413.0,487.9 L414.1,489.2 L415.6,489.3 L416.6,491.3 L417.9,491.6 L419.3,492.7 L420.6,494.4 L421.1,494.4 L422.4,496.0 L423.7,497.5 L425.1,497.7 L426.0,498.9 L427.7,500.2 L429.1,501.4 L430.7,503.2 L432.0,503.3 L433.1,503.7 L434.5,505.4 L435.9,505.2 L436.7,506.8 L438.5,507.6 L439.4,508.6 L440.8,510.0 L442.7,510.7 L443.5,512.1 L445.4,513.1 L446.2,513.8 L447.9,515.9 L449.0,516.4 L450.7,518.0 L451.7,518.9 L453.3,521.2 L454.6,522.3 L455.9,523.1 L457.1,525.4 L458.0,526.7 L458.9,528.3 L459.1,529.4 L459.0,530.5 L459.2,532.5 L460.6,533.6 L462.6,533.7 L464.1,533.2 L466.4,534.0 L468.2,534.2 L469.1,535.8 L471.0,536.7 L472.1,538.0 L473.0,538.4 L474.1,539.8 L475.3,540.3 L476.3,541.2 L477.3,542.3 L478.5,543.9 L479.6,544.4 L480.6,545.9 L481.8,546.5 L483.0,548.8 L483.9,550.1 L485.3,551.3 L486.7,552.0 L487.9,552.7 L488.7,554.0 L490.4,554.8 L491.2,555.6 L492.5,556.2 L493.8,557.4 L495.2,558.5 L496.4,559.7 L497.2,560.6 L498.5,561.4 L499.8,562.3 L501.2,563.4 L502.5,564.5 L504.0,565.3 L505.8,566.1 L506.5,567.9 L508.1,568.3 L509.7,569.8 L510.7,570.6 L511.9,571.1 L513.7,571.3 L514.9,571.9 L516.2,572.5 L518.1,572.8 L519.5,574.0 L520.7,574.5 L522.2,575.5 L524.0,575.8 L525.3,576.2 L526.5,577.7 L528.1,577.8 L529.4,578.3 L530.2,578.9 L531.9,579.4 L533.2,580.2 L534.3,581.3 L535.7,581.9 L537.2,582.1 L538.1,583.3 L540.1,584.0 L541.7,584.7 L543.3,584.6 L544.9,586.1 L546.0,587.1 L547.9,587.6 L549.0,588.5 L550.7,589.0 L552.4,589.1 L554.0,590.2 L555.2,590.6 L556.5,591.3 L558.3,592.8 L559.5,592.5 L561.2,593.6 L562.6,594.2 L564.0,594.2 L565.7,595.5 L567.0,595.3 L568.8,595.6 L570.5,597.0 L571.3,596.8 L572.7,596.8 L574.3,598.0 L576.1,598.3 L577.4,598.5 L578.9,599.1 L580.3,599.1 L582.1,599.4 L583.3,600.3 L585.2,600.3 L586.3,600.6 L587.7,600.9 L589.5,601.0 L590.8,601.5 L592.4,602.3 L593.5,602.2 L594.9,602.5 L596.8,602.4 L597.9,602.7 L599.6,603.9 L601.3,604.0 L602.6,604.1 L604.0,604.4 L605.9,604.2 L607.1,604.5 L609.0,605.2 L610.2,604.9 L612.0,606.0 L613.6,606.5 L615.2,606.3 L616.4,607.0 L617.9,607.7 L619.8,607.5 L621.3,607.5 L623.0,608.4" class="c" stroke-width="1.7"/>
<path d="M404.9,486.7 L406.8,488.3 L408.6,488.5 L410.3,489.8 L411.9,489.5 L413.0,491.1 L414.4,491.6 L415.7,492.4 L417.1,493.4 L418.5,494.5 L419.6,495.5 L420.3,497.4 L420.9,498.6 L421.9,499.5 L422.6,500.6 L423.8,501.8 L425.0,501.9 L427.1,502.3 L428.4,503.3 L430.0,503.3 L431.6,505.1 L432.9,505.5 L434.1,506.5 L434.9,508.5 L436.4,508.7 L437.1,509.5 L438.2,511.1 L439.7,511.8 L441.0,513.1 L442.0,512.6 L443.1,514.3 L444.5,515.6 L445.9,515.7 L447.7,517.1 L448.8,518.3 L449.9,519.2 L451.4,520.8 L453.0,521.7 L453.9,522.2 L455.6,522.7 L457.1,524.1 L459.3,524.3 L460.8,525.7 L462.1,526.9 L463.3,527.6 L464.9,528.9 L466.5,529.4 L467.2,531.1 L468.7,532.5 L469.8,534.2 L470.6,535.5 L472.0,536.4 L473.0,537.5 L474.1,539.3 L475.0,540.9 L475.8,541.5 L476.8,543.3 L478.0,544.4 L479.0,545.5 L479.9,546.4 L480.7,547.5 L481.9,549.2 L483.3,549.9 L484.4,550.9 L485.3,551.1 L486.1,551.8 L487.2,553.6 L488.5,554.5 L489.7,555.4 L491.2,556.6 L492.7,558.0 L493.7,559.3 L495.1,559.5 L496.1,560.8 L497.5,561.1 L498.7,562.8 L500.0,563.6 L501.1,564.3 L502.7,565.4 L504.0,566.8 L505.0,566.6 L506.9,568.0 L508.1,569.1 L509.1,569.5 L510.6,571.2 L511.6,571.1 L513.3,573.0 L515.1,573.1 L516.4,573.9 L518.2,574.6 L519.5,575.6 L521.0,576.3 L522.8,577.0 L523.8,577.4 L525.7,578.1 L526.9,579.0 L528.2,579.0 L529.9,579.4 L531.3,580.0 L532.4,581.2 L533.6,581.7 L535.2,581.7 L536.1,582.2 L538.0,583.4 L539.4,583.8 L540.5,584.7 L542.2,585.9 L543.5,586.1 L545.3,587.6 L546.5,588.0 L547.7,588.6 L549.2,589.2 L550.7,589.4 L552.1,590.7 L553.7,591.3 L555.0,590.7 L556.8,591.6 L558.3,592.5 L559.6,592.5 L560.9,593.9 L562.5,594.5 L564.3,594.8 L566.0,595.0 L567.1,595.9 L568.4,597.0 L570.0,597.2 L571.4,597.2 L572.9,597.4 L574.2,598.3 L575.8,598.0 L577.7,598.8 L578.6,599.3 L580.1,599.8 L582.0,599.8 L583.5,601.0 L584.7,600.9 L586.4,602.1 L588.0,601.8 L589.2,602.1 L591.2,602.6 L592.5,603.3 L593.7,603.6 L595.6,603.3 L596.8,604.2 L598.1,603.9 L599.7,604.3 L601.0,604.0 L602.8,604.7 L604.2,604.4 L605.4,604.7 L607.3,605.2 L608.9,605.5 L610.4,605.9 L612.3,606.4 L613.9,606.9 L615.2,607.4 L617.3,608.0 L618.7,608.0 L620.1,607.5 L621.8,608.4 L623.0,608.2" class="c" stroke-width="1.7"/>
<path d="M404.9,515.4 L406.4,516.2 L407.8,517.3 L409.2,518.6 L410.4,519.5 L411.7,519.5 L413.3,520.2 L414.6,521.0 L415.6,521.9 L417.0,523.3 L418.7,524.3 L419.8,523.9 L421.6,525.3 L423.4,526.4 L425.3,526.7 L426.0,527.6 L426.9,528.5 L428.4,529.4 L429.2,530.7 L430.7,532.0 L431.4,532.9 L432.9,534.4 L434.2,534.8 L435.8,535.5 L436.9,537.2 L438.2,537.7 L439.5,538.5 L440.4,539.4 L441.6,540.5 L442.7,541.5 L443.9,542.7 L444.6,543.4 L445.7,544.3 L447.0,546.1 L448.1,547.8 L448.9,548.5 L450.5,549.9 L451.5,551.6 L452.7,553.6 L453.4,554.3 L454.4,556.0 L454.9,557.4 L455.7,559.0 L455.9,560.4 L456.4,561.6 L456.9,563.6 L457.8,564.8 L459.3,564.9 L461.1,566.5 L462.6,566.5 L464.2,566.4 L465.9,566.4 L467.7,565.8 L469.4,566.5 L470.7,566.2 L472.4,566.5 L473.8,565.8 L475.5,566.6 L477.1,566.7 L478.8,566.1 L480.3,565.8 L481.9,566.2 L479.9,566.6 L478.0,567.2 L476.4,567.5 L474.5,566.9 L475.6,568.8 L476.4,570.6 L477.6,572.0 L478.3,573.8 L479.8,574.3 L480.9,575.9 L481.7,576.2 L482.7,577.4 L483.8,578.2 L485.2,579.0 L486.4,580.6 L487.6,581.4 L488.7,582.5 L489.7,584.3 L491.2,585.0 L492.8,586.2 L493.9,587.3 L495.0,589.0 L496.4,590.1 L497.7,590.4 L498.5,591.6 L500.1,592.8 L501.2,593.7 L502.5,594.5 L504.0,594.9 L505.5,595.7 L506.9,597.3 L507.9,597.6 L509.2,598.1 L510.8,599.2 L512.0,600.0 L513.2,600.5 L514.7,601.4 L515.7,602.7 L517.1,602.8 L518.3,603.8 L520.0,603.9 L521.4,605.4 L522.7,606.1 L524.0,606.7 L525.1,608.2 L526.4,608.8 L528.1,609.6 L529.0,609.7 L530.8,610.3 L531.7,610.6 L533.3,611.9 L534.6,612.6 L536.2,613.4 L537.7,614.9 L538.9,614.9 L540.5,615.6 L541.7,616.5 L543.5,616.6 L544.8,617.7 L546.8,617.9 L548.1,618.6" class="c" stroke-width="1.7"/>
<path d="M404.9,519.8 L405.9,519.8 L407.2,520.4 L408.8,521.3 L409.9,522.6 L411.3,522.3 L412.6,524.2 L414.1,525.4 L415.5,526.4 L417.1,527.4 L418.3,528.9 L419.9,530.0 L421.0,531.2 L421.8,531.7 L422.9,532.9 L423.8,533.2 L425.1,534.6 L426.7,535.2 L427.4,536.2 L429.3,536.9 L430.4,538.5 L431.9,539.2 L433.2,540.9 L434.8,541.4 L435.7,542.2 L437.2,543.0 L438.5,543.5 L439.8,544.5 L440.8,545.2 L442.2,546.1 L443.5,547.4 L444.9,548.7 L446.6,549.9 L447.7,550.6 L448.9,551.7 L450.3,552.4 L451.7,553.1 L452.9,553.7 L454.4,554.7 L455.7,555.8 L456.8,556.7 L458.4,557.5 L459.7,558.5 L461.2,558.6 L462.5,559.8 L463.9,560.4 L464.9,560.9 L466.7,562.0 L467.6,563.7 L468.8,563.9 L470.3,564.9 L471.8,566.1 L473.4,565.9 L475.2,566.7 L477.0,568.0 L477.9,569.0 L478.2,571.6 L478.9,572.6 L479.0,573.6 L479.6,575.7 L480.6,576.7 L482.1,577.3 L482.9,578.9 L484.0,580.1 L485.2,580.9 L486.2,582.2 L487.6,583.7 L488.8,584.4 L490.0,585.1 L491.1,586.2 L492.4,587.9 L493.5,588.5 L495.1,589.8 L496.0,590.2 L497.0,591.3 L498.5,592.7 L499.8,593.7 L501.3,594.2 L502.6,595.4 L503.8,596.1 L505.0,597.1 L506.7,598.0 L508.0,599.1 L509.2,599.5 L510.7,601.4 L512.2,601.8 L513.3,602.2 L515.0,604.0 L516.2,603.8 L517.4,605.2 L519.1,605.7 L520.3,606.2 L521.2,606.8 L523.0,608.0 L523.8,608.2 L525.4,609.4 L526.7,610.4 L528.4,610.3 L529.6,611.3 L531.5,612.1 L533.0,613.0 L534.3,612.7 L535.6,614.0 L537.2,614.5 L538.5,615.9 L540.4,615.9 L541.8,616.9 L543.1,617.0 L544.8,618.0 L546.7,618.6 L548.1,618.6" class="c" stroke-width="1.7"/>
<path d="M404.9,542.9 L406.6,544.7 L408.1,546.0 L409.1,547.9 L410.5,549.1 L411.7,549.7 L413.0,550.8 L414.5,551.2 L415.7,552.0 L416.8,553.3 L418.2,553.5 L419.4,554.6 L421.0,555.2 L422.1,557.0 L423.7,557.6 L424.9,558.3 L425.9,559.7 L427.4,560.5 L428.5,561.7 L429.8,563.0 L430.8,564.4 L431.7,564.7 L433.2,564.8 L435.2,565.9 L436.7,566.4 L438.2,567.0 L439.0,568.5 L439.9,569.4 L441.3,571.0 L442.3,572.6 L443.6,573.7 L445.1,574.5 L446.3,576.0 L447.4,576.8 L448.7,578.0 L450.0,578.7 L450.5,579.9 L451.9,580.6 L453.0,581.5 L454.3,582.9 L455.9,583.2 L457.0,584.4 L458.1,585.6 L459.7,586.8 L461.3,587.5 L462.3,587.5 L464.0,588.4 L465.2,589.2 L466.5,590.1 L467.6,592.0 L469.1,592.5 L470.8,593.9 L471.7,594.9 L473.5,594.9 L475.2,595.0 L476.8,595.2 L478.2,595.8 L480.0,595.7 L478.4,596.1 L476.3,596.8 L474.9,597.1 L475.5,598.0 L476.6,598.1 L477.5,600.0 L478.5,601.4 L479.7,602.3 L480.9,602.7 L481.9,603.2 L483.1,604.6 L484.0,606.1 L484.9,607.4 L486.4,608.0 L487.2,609.6 L488.6,609.9 L489.6,612.0 L490.7,612.3 L491.9,614.0 L493.9,614.4 L495.5,614.7 L496.9,615.9 L498.8,616.3 L500.2,618.2 L501.9,618.3 L499.7,619.7 L498.1,620.0 L496.7,619.5 L495.0,619.5 L493.4,619.1 L492.1,617.8 L490.9,617.0 L489.5,616.0 L488.0,615.0 L487.2,614.1 L486.2,612.8 L485.0,610.8 L483.9,609.0 L482.8,608.4 L481.5,607.0 L480.6,605.5 L479.4,604.2 L478.3,602.3 L477.2,600.8 L476.0,600.8 L474.9,599.1 L474.1,597.5 L473.2,596.6 L471.8,595.7" class="c" stroke-width="1.7"/>
<path d="M404.9,551.6 L406.5,552.0 L408.3,553.1 L410.3,552.6 L411.8,553.2 L413.1,553.7 L414.9,555.4 L416.7,555.3 L418.3,556.4 L419.2,557.7 L420.6,558.7 L422.0,559.7 L423.6,560.5 L424.8,561.4 L426.5,562.9 L428.0,564.0 L429.4,564.9 L430.6,566.6 L431.9,567.2 L433.0,568.8 L434.2,569.4 L435.8,570.8 L437.0,571.4 L438.4,572.8 L439.2,573.9 L440.4,575.6 L442.0,577.0 L443.0,577.1 L443.9,579.1 L444.8,579.4 L446.6,579.7 L448.6,580.9 L450.1,581.6 L451.1,582.1 L451.7,583.6 L452.7,585.1 L453.4,586.2 L454.4,587.2 L455.7,588.7 L457.2,589.0 L458.5,589.8 L460.0,590.5 L461.8,591.4 L463.3,592.0 L465.4,592.8 L467.0,594.3 L468.5,594.5 L470.0,595.1 L471.8,595.4" class="c" stroke-width="1.7"/>
<path d="M404.9,619.8 L406.6,619.8 L408.2,619.9 L409.9,620.0 L411.6,620.3 L413.3,620.5 L415.0,620.5 L416.6,620.7 L418.3,620.9 L420.0,621.0 L421.7,621.2 L423.3,621.2 L425.1,621.5 L426.7,621.4 L428.3,621.6 L430.0,621.8 L431.7,621.8 L433.4,621.8 L435.0,622.1 L436.7,622.2 L438.3,622.2 L440.1,622.3 L441.7,622.4 L443.3,622.5 L445.0,622.7 L446.7,622.7 L448.4,622.8 L450.1,622.9 L451.7,622.9 L453.4,623.0 L455.0,623.2 L456.7,623.3 L458.5,623.4 L460.2,623.6 L461.8,623.6 L463.4,623.6 L465.1,623.7 L466.8,623.7 L468.5,623.9 L470.2,623.8 L471.8,624.0 L473.5,623.9 L475.2,624.0 L476.8,623.8 L478.4,623.9 L480.2,623.9 L481.8,624.0 L483.5,624.0 L485.2,623.9 L486.8,623.8 L488.6,623.7 L490.2,623.8 L491.9,623.6 L493.6,623.6 L495.2,623.4 L496.9,623.4 L498.6,623.4 L500.2,623.2 L501.9,623.1 L503.5,622.9 L505.2,622.7 L506.9,622.7 L508.6,622.5 L510.3,622.4 L512.0,622.3 L513.6,622.3 L515.3,622.2 L517.0,622.0 L518.7,621.9 L520.3,621.9 L522.0,621.7 L523.7,621.5 L525.4,621.4 L527.0,621.3 L528.7,621.2 L530.4,620.8 L532.0,620.8 L533.7,620.6 L535.4,620.4 L537.0,620.3 L538.7,620.0 L540.4,619.9 L542.1,619.8 L543.8,619.5 L545.4,619.3 L547.1,619.1 L548.8,619.0 L550.4,618.8 L552.2,618.6 L553.6,618.4 L555.1,618.2 L556.6,618.0 L558.1,617.9 L559.5,617.6 L561.0,617.4 L562.5,617.2 L564.0,616.9 L565.5,616.8 L567.0,616.6 L568.5,616.3 L570.0,616.1 L571.4,615.8 L572.9,615.7 L574.4,615.5 L575.8,615.3 L577.3,615.0 L578.8,614.7 L580.5,614.5 L582.2,614.3 L583.9,614.2 L585.5,613.9 L587.2,613.8 L588.9,613.5 L590.5,613.3 L592.3,613.1 L593.9,612.8 L595.5,612.7 L597.3,612.5 L598.9,612.2 L600.6,611.9 L602.2,611.7 L603.9,611.6 L605.6,611.4 L607.1,611.1 L608.6,610.8 L610.1,610.8 L611.6,610.6 L613.1,610.2 L614.5,609.9 L616.0,609.8 L617.5,609.5 L619.0,609.3 L620.5,609.0 L621.9,608.8 L623.4,608.6 L624.8,608.3 L626.3,607.9 L627.8,607.7 L629.3,607.3 L630.8,607.1 L632.3,606.9 L633.8,606.7 L635.3,606.4 L636.9,606.2 L638.4,605.9 L639.9,605.6 L641.3,605.2 L642.8,605.1 L644.3,604.7 L645.7,604.4 L647.3,604.0 L648.7,603.7 L650.2,603.4 L651.7,603.2 L653.1,602.7 L654.6,602.3 L656.1,602.1 L657.6,601.8 L659.1,601.5 L660.6,601.0 L662.0,600.7 L663.5,600.5 L665.0,600.1 L666.6,599.8 L668.0,599.4 L669.5,599.0 L671.0,598.6 L672.5,598.3" class="c" stroke-width="1.4"/>
<text x="468.6" y="467.2" font-size="6.3" text-anchor="start" font-weight="normal" fill="#2b2626" transform="rotate(32 468.6 467.2)" stroke="#2b2626" stroke-width="0.12">0 % max. Steuerstrom</text>
<text x="463.6" y="492.8" font-size="6.3" text-anchor="start" font-weight="normal" fill="#2b2626" transform="rotate(38.5 463.6 492.8)" stroke="#2b2626" stroke-width="0.12">45 % max. Steuerstrom</text>
<text x="462.4" y="519.9" font-size="6.3" text-anchor="start" font-weight="normal" fill="#2b2626" transform="rotate(39 462.4 519.9)" stroke="#2b2626" stroke-width="0.12">55 % max. Steuerstrom</text>
<text x="458.7" y="544.6" font-size="6.3" text-anchor="start" font-weight="normal" fill="#2b2626" transform="rotate(40 458.7 544.6)" stroke="#2b2626" stroke-width="0.12">65 % max. Steuerstrom</text>
<text x="461.2" y="577.0" font-size="6.3" text-anchor="start" font-weight="normal" fill="#2b2626" transform="rotate(38.5 461.2 577.0)" stroke="#2b2626" stroke-width="0.12">75 % max. Steuerstrom</text>
<text x="413.0" y="616.2" font-size="6.6" text-anchor="start" font-weight="normal" fill="#2c4250">Druckverlust A<tspan dx="-0.9" font-size="6.2">→</tspan><tspan dx="-0.9">T</tspan></text>
<text x="614.2" y="619.6" font-size="6.6" text-anchor="start" font-weight="normal" fill="#2c4250">Druckverlust P<tspan dx="-0.9" font-size="6.2">→</tspan><tspan dx="-0.9">A</tspan></text>
<line x1="65.50" y1="787.60" x2="65.50" y2="964.40" class="g"/>
<line x1="92.50" y1="787.60" x2="92.50" y2="964.40" class="g"/>
<line x1="119.50" y1="787.60" x2="119.50" y2="964.40" class="g"/>
<line x1="146.50" y1="787.60" x2="146.50" y2="964.40" class="g"/>
<line x1="173.50" y1="787.60" x2="173.50" y2="964.40" class="g"/>
<line x1="200.50" y1="787.60" x2="200.50" y2="964.40" class="g"/>
<line x1="227.50" y1="787.60" x2="227.50" y2="964.40" class="g"/>
<line x1="254.50" y1="787.60" x2="254.50" y2="964.40" class="g"/>
<line x1="281.50" y1="787.60" x2="281.50" y2="964.40" class="g"/>
<line x1="308.50" y1="787.60" x2="308.50" y2="964.40" class="g"/>
<line x1="51.80" y1="929.50" x2="322.00" y2="929.50" class="g"/>
<line x1="51.80" y1="893.50" x2="322.00" y2="893.50" class="g"/>
<line x1="51.80" y1="858.50" x2="322.00" y2="858.50" class="g"/>
<line x1="51.80" y1="822.50" x2="322.00" y2="822.50" class="g"/>
<line x1="78.82" y1="964.40" x2="78.82" y2="962.40" class="t"/>
<line x1="105.84" y1="964.40" x2="105.84" y2="962.40" class="t"/>
<line x1="132.86" y1="964.40" x2="132.86" y2="962.40" class="t"/>
<line x1="159.88" y1="964.40" x2="159.88" y2="962.40" class="t"/>
<line x1="186.90" y1="964.40" x2="186.90" y2="962.40" class="t"/>
<line x1="213.92" y1="964.40" x2="213.92" y2="962.40" class="t"/>
<line x1="240.94" y1="964.40" x2="240.94" y2="962.40" class="t"/>
<line x1="267.96" y1="964.40" x2="267.96" y2="962.40" class="t"/>
<line x1="294.98" y1="964.40" x2="294.98" y2="962.40" class="t"/>
<line x1="51.80" y1="955.56" x2="54.00" y2="955.56" class="t"/>
<line x1="51.80" y1="946.72" x2="54.00" y2="946.72" class="t"/>
<line x1="51.80" y1="937.88" x2="54.00" y2="937.88" class="t"/>
<line x1="51.80" y1="920.20" x2="54.00" y2="920.20" class="t"/>
<line x1="51.80" y1="911.36" x2="54.00" y2="911.36" class="t"/>
<line x1="51.80" y1="902.52" x2="54.00" y2="902.52" class="t"/>
<line x1="51.80" y1="884.84" x2="54.00" y2="884.84" class="t"/>
<line x1="51.80" y1="876.00" x2="54.00" y2="876.00" class="t"/>
<line x1="51.80" y1="867.16" x2="54.00" y2="867.16" class="t"/>
<line x1="51.80" y1="849.48" x2="54.00" y2="849.48" class="t"/>
<line x1="51.80" y1="840.64" x2="54.00" y2="840.64" class="t"/>
<line x1="51.80" y1="831.80" x2="54.00" y2="831.80" class="t"/>
<line x1="51.80" y1="814.12" x2="54.00" y2="814.12" class="t"/>
<line x1="51.80" y1="805.28" x2="54.00" y2="805.28" class="t"/>
<line x1="51.80" y1="796.44" x2="54.00" y2="796.44" class="t"/>
<rect x="51.80" y="787.60" width="270.20" height="176.80" class="f"/>
<line x1="53.10" y1="787.60" x2="53.10" y2="964.40" stroke="#444" stroke-width="0.6"/>
<text x="12.5" y="765.5" font-size="11.4" text-anchor="start" font-weight="bold" fill="#111">Druckstufe 20 bar / 290 psi</text>
<text transform="translate(48.8 967.3) scale(1.14 1)" font-size="8" text-anchor="end" font-weight="normal" fill="#222" stroke="#222" stroke-width="0.22">0</text>
<text transform="translate(48.8 931.9) scale(1.14 1)" font-size="8" text-anchor="end" font-weight="normal" fill="#222" stroke="#222" stroke-width="0.22">5</text>
<text transform="translate(48.8 896.6) scale(1.14 1)" font-size="8" text-anchor="end" font-weight="normal" fill="#222" stroke="#222" stroke-width="0.22">10</text>
<text transform="translate(48.8 861.2) scale(1.14 1)" font-size="8" text-anchor="end" font-weight="normal" fill="#222" stroke="#222" stroke-width="0.22">15</text>
<text transform="translate(48.8 825.9) scale(1.14 1)" font-size="8" text-anchor="end" font-weight="normal" fill="#222" stroke="#222" stroke-width="0.22">20</text>
<text transform="translate(48.8 790.5) scale(1.14 1)" font-size="8" text-anchor="end" font-weight="normal" fill="#222" stroke="#222" stroke-width="0.22">25</text>
<text transform="translate(67.1 976.4) scale(1.14 1)" font-size="8" text-anchor="middle" font-weight="normal" fill="#222" stroke="#222" stroke-width="0.22">4</text>
<text transform="translate(94.1 976.4) scale(1.14 1)" font-size="8" text-anchor="middle" font-weight="normal" fill="#222" stroke="#222" stroke-width="0.22">2</text>
<text transform="translate(121.1 976.4) scale(1.14 1)" font-size="8" text-anchor="middle" font-weight="normal" fill="#222" stroke="#222" stroke-width="0.22">0</text>
<text transform="translate(148.2 976.4) scale(1.14 1)" font-size="8" text-anchor="middle" font-weight="normal" fill="#222" stroke="#222" stroke-width="0.22">2</text>
<text transform="translate(175.2 976.4) scale(1.14 1)" font-size="8" text-anchor="middle" font-weight="normal" fill="#222" stroke="#222" stroke-width="0.22">4</text>
<text transform="translate(202.2 976.4) scale(1.14 1)" font-size="8" text-anchor="middle" font-weight="normal" fill="#222" stroke="#222" stroke-width="0.22">6</text>
<text transform="translate(229.2 976.4) scale(1.14 1)" font-size="8" text-anchor="middle" font-weight="normal" fill="#222" stroke="#222" stroke-width="0.22">8</text>
<text transform="translate(256.2 976.4) scale(1.14 1)" font-size="8" text-anchor="middle" font-weight="normal" fill="#222" stroke="#222" stroke-width="0.22">10</text>
<text transform="translate(283.3 976.4) scale(1.14 1)" font-size="8" text-anchor="middle" font-weight="normal" fill="#222" stroke="#222" stroke-width="0.22">12</text>
<text transform="translate(310.3 976.4) scale(1.14 1)" font-size="8" text-anchor="middle" font-weight="normal" fill="#222" stroke="#222" stroke-width="0.22">14</text>
<text x="18.5" y="803.2" font-size="6" text-anchor="start" font-weight="bold" fill="#222">p [bar]</text>
<text x="96.8" y="991.1" font-size="6.9" text-anchor="middle" font-weight="bold" fill="#222">1 -&gt; 3</text>
<text x="159.6" y="991.1" font-size="6.9" text-anchor="middle" font-weight="bold" fill="#222">2 -&gt; 1</text>
<text x="287.3" y="990.9" font-size="6.0" text-anchor="start" font-weight="bold" fill="#222">Q</text>
<text x="298.4" y="991.0" font-size="6.0" text-anchor="start" font-weight="bold" fill="#222">[l/min]</text>
<path d="M116.0,823.7 L117.9,823.2 L119.4,822.8 L120.5,822.8 L121.9,824.1 L123.2,825.4 L124.7,826.3 L126.1,826.7 L127.3,827.1 L128.5,828.7 L130.1,829.5 L131.1,830.1 L133.0,830.9 L133.9,831.8 L135.4,833.4 L137.0,834.6 L138.1,835.1 L139.9,835.7 L140.8,837.2 L142.5,837.0 L143.6,838.6 L144.9,839.0 L146.2,839.6 L147.9,841.2 L149.4,841.4 L150.6,842.6 L152.1,843.6 L153.2,845.1 L154.7,845.4 L155.9,845.6 L157.3,847.3 L158.3,847.9 L159.8,848.0 L161.3,849.6 L162.4,849.7 L164.1,850.8 L165.5,852.5 L166.5,852.4 L167.9,852.8 L169.5,854.5 L170.7,854.8 L172.2,856.0 L173.6,856.0 L174.8,857.5 L176.7,858.3 L178.0,859.0 L179.4,858.7 L180.8,859.3 L182.5,860.4 L184.3,860.9 L185.6,861.4 L187.0,861.9 L188.2,862.2 L190.1,863.4 L191.7,863.8 L193.0,864.1 L194.4,865.5 L196.2,865.5 L197.6,866.0 L199.0,866.6 L200.6,867.7 L202.3,867.3 L203.5,867.6 L205.3,867.9 L206.6,868.2 L208.2,869.3 L209.4,869.2 L211.1,869.9 L212.5,869.9 L214.1,870.7 L215.4,871.1 L216.9,871.2 L218.5,870.7 L220.0,871.9 L221.7,872.3 L223.1,872.4 L224.1,872.6 L225.9,872.5 L227.5,872.4 L229.1,873.1 L230.3,873.6 L231.5,873.3 L233.0,873.1 L235.1,873.7 L236.4,873.9 L238.1,874.4 L239.5,874.2 L240.8,874.3 L242.5,875.3 L243.9,875.3 L245.3,875.9 L246.6,875.3 L248.5,876.4 L250.1,875.7 L251.7,876.3 L253.0,876.7 L254.6,877.4 L256.2,876.8 L257.6,876.9 L259.0,876.9 L260.5,877.2 L262.1,877.8 L263.3,878.2 L264.6,878.2 L266.5,877.8 L267.9,878.1 L269.7,878.4 L271.0,879.1 L272.2,879.7 L273.9,879.5 L275.2,879.0 L276.6,879.0 L278.1,879.8 L279.8,880.4 L281.2,880.2 L283.0,881.1 L284.4,880.6 L285.7,880.9 L287.5,881.8 L288.8,881.4 L290.6,881.4 L291.7,882.5 L293.7,882.0 L294.8,882.3 L296.3,882.7 L298.1,882.9 L299.4,883.3 L301.1,882.7 L302.5,882.7 L304.1,883.6 L305.4,883.8 L306.9,883.5 L308.6,883.8 L310.1,884.8 L311.6,884.2 L312.9,884.6 L314.6,885.2 L316.0,884.9 L317.7,885.0 L319.1,885.0 L320.8,885.0 L322.0,884.8" class="c" stroke-width="1.7"/>
<path d="M116.0,823.7 L117.1,824.5 L118.8,825.5 L120.2,825.7 L122.0,826.8 L123.1,828.3 L124.5,829.4 L125.6,829.7 L126.7,830.9 L128.0,832.2 L129.2,833.3 L130.3,833.5 L131.2,834.2 L132.8,835.0 L134.0,836.1 L135.2,837.9 L136.7,837.8 L137.7,839.1 L138.7,839.9 L140.2,840.8 L141.4,841.3 L142.7,843.0 L143.8,844.0 L145.6,845.5 L146.6,846.0 L148.1,846.8 L149.4,847.6 L150.7,848.9 L152.0,849.4 L153.1,849.8 L154.5,850.4 L155.7,851.2 L157.0,852.4 L158.8,852.9 L159.9,854.0 L161.2,854.8 L162.5,854.8 L163.8,856.1 L165.4,857.4 L166.8,857.9 L168.3,858.7 L169.8,859.5 L171.8,859.9 L173.6,860.7 L175.3,861.0 L176.3,862.0 L177.8,862.1 L179.8,863.2 L181.0,863.8 L182.5,864.4 L183.9,865.7 L185.8,865.8 L186.9,867.1 L188.9,866.8 L190.3,867.6 L191.7,867.8 L192.9,867.8 L194.4,868.5 L196.1,869.1 L197.5,869.6 L199.0,870.7 L200.6,871.1 L201.8,871.1 L203.3,871.2 L204.8,871.8 L206.6,871.8 L208.0,872.8 L209.2,873.0 L210.7,873.4 L212.2,873.8 L213.7,873.2 L215.2,873.7 L216.5,873.8 L218.5,874.1 L219.8,874.9 L221.2,874.6 L223.2,875.3 L224.3,875.3 L226.2,876.5 L227.4,876.3 L228.9,875.8 L230.2,875.9 L231.7,876.6 L233.1,876.3 L235.1,876.3 L236.7,877.1 L238.1,876.8 L239.4,877.9 L241.3,877.2 L242.7,877.4 L243.9,878.1 L245.3,878.4 L247.2,877.9 L248.4,878.5 L250.2,878.0 L251.7,878.4 L252.9,878.4 L254.1,878.7 L255.8,879.3 L257.6,879.2 L258.7,879.0 L260.2,879.0 L261.7,879.0 L263.2,879.7 L265.1,880.0 L266.5,879.5 L267.5,879.6 L269.3,880.3 L271.0,880.8 L272.5,880.3 L273.7,880.9 L275.4,881.5 L277.4,881.6 L278.8,881.9 L280.2,881.9 L281.8,882.2 L283.2,882.8 L284.5,882.7 L286.0,882.1 L287.2,882.3 L289.0,882.0 L290.5,883.0 L291.8,883.0 L293.4,882.9 L294.6,882.9 L296.7,884.0 L298.2,883.8 L299.5,883.6 L301.0,884.4 L302.7,883.7 L304.0,884.0 L305.7,884.4 L307.1,885.2 L308.5,885.4 L310.1,885.2 L311.5,885.1 L313.3,886.3 L314.7,885.7 L316.1,885.5 L317.7,886.0 L318.8,885.7 L320.3,886.0 L322.0,885.9" class="c" stroke-width="1.7"/>
<path d="M118.7,824.9 L119.3,823.8 L121.7,825.2 L122.4,822.4 L121.7,823.4 L119.2,823.5 L122.7,821.9 L121.6,823.8 L122.4,823.6 L119.6,824.9 L118.9,824.3 L119.8,822.1" class="c" stroke-width="1.25"/>
<path d="M70.7,821.5 L71.8,823.4 L73.3,823.9 L74.8,825.5 L76.2,826.1 L77.8,827.6 L78.7,828.5 L80.2,829.4 L81.9,830.8 L82.8,830.8 L84.7,832.1 L85.6,832.7 L87.0,832.8 L88.9,833.3 L90.5,834.8 L92.7,834.7 L94.1,835.8 L95.0,836.3 L96.3,837.9 L98.3,837.8 L99.1,838.5 L100.6,840.0 L101.9,841.7 L103.0,842.3 L104.2,843.2 L105.5,843.5 L106.7,844.8 L107.3,846.9 L108.4,848.2 L108.7,849.7 L109.9,851.2 L111.2,852.6 L112.4,853.2 L114.1,854.6 L115.5,854.5 L116.5,856.2 L117.9,856.9 L119.7,859.0 L120.5,859.4 L121.8,861.2 L123.3,861.8 L125.1,862.9 L126.3,863.2 L127.6,864.6 L128.6,864.5 L130.1,865.9 L131.8,866.9 L132.8,868.0 L134.1,868.0 L135.3,869.3 L137.0,870.1 L138.5,870.8 L139.6,872.1 L141.0,872.9 L142.6,873.6 L143.9,874.0 L145.2,874.9 L146.2,875.7 L147.5,876.4 L149.1,877.6 L149.8,878.0 L151.1,879.8 L152.6,881.0 L153.7,881.4 L154.9,882.6 L156.2,882.9 L157.3,884.5 L158.5,884.9 L160.1,886.4 L161.6,887.2 L163.0,887.8 L164.3,888.3 L166.2,888.9 L167.4,889.7 L169.1,890.0 L170.3,891.2 L172.0,891.1 L173.4,891.8 L174.7,893.2 L176.3,894.1 L177.8,894.6 L179.1,894.9 L180.5,896.1 L182.5,896.2 L183.9,897.7 L185.2,897.4 L186.5,898.8 L188.5,899.0 L190.0,900.0 L191.6,899.7 L193.2,901.4 L194.6,901.3 L196.3,901.7 L197.6,902.9 L199.5,902.6 L200.8,903.5 L202.0,903.5 L203.5,904.3 L204.8,904.0 L206.6,904.8 L208.3,905.3 L209.4,905.4 L211.1,905.7 L212.6,905.7 L213.8,906.3 L215.7,906.8 L217.0,907.3 L218.3,907.3 L220.1,907.7 L221.1,907.8 L223.1,907.7 L224.3,909.0 L225.9,909.0 L227.7,910.0 L229.1,910.3 L230.6,909.6 L232.0,909.6 L233.2,910.0 L234.7,910.1 L236.6,910.9 L237.6,909.9 L239.1,910.3 L240.6,911.2 L242.1,911.0 L243.7,911.3 L245.1,911.5 L247.1,911.1 L248.2,911.3 L250.1,912.3 L251.2,912.7 L252.7,912.5 L254.6,912.9 L255.7,912.4 L257.2,913.6 L259.3,913.2 L260.3,913.9 L261.9,914.2 L263.7,914.0 L265.1,914.2 L266.7,913.9 L268.2,913.9 L269.7,914.5 L271.4,915.2 L272.7,915.4 L274.3,915.5 L275.4,915.0 L277.0,915.8 L278.8,915.6 L280.1,915.6 L281.2,915.2 L282.9,915.8 L284.3,915.9 L285.7,915.7 L287.1,916.0 L289.0,916.0 L290.7,916.0 L292.0,916.5 L293.6,917.4" class="c" stroke-width="1.75"/>
<path d="M70.7,821.5 L71.6,823.5 L72.6,823.9 L73.7,824.6 L74.7,826.1 L75.9,827.0 L76.7,828.8 L77.7,829.2 L78.4,830.7 L79.6,831.3 L80.5,833.0 L81.0,833.9 L81.6,835.5 L82.5,837.9 L84.7,838.2 L86.1,838.7 L87.6,839.5 L89.5,840.8 L90.9,841.9 L92.6,842.5 L93.9,843.3 L95.1,843.9 L96.3,844.9 L98.0,846.2 L98.7,846.4 L100.3,847.5 L101.8,848.6 L102.7,849.5 L104.7,850.5 L106.0,850.8 L107.2,852.2 L108.8,853.3 L110.1,853.7 L111.4,854.7 L112.8,855.2 L113.9,856.5 L115.3,857.2 L116.2,857.2 L117.7,858.7 L119.0,859.9 L120.5,860.5 L121.8,861.9 L123.4,863.5 L124.4,863.5 L126.0,864.9 L127.1,865.7 L127.7,865.9 L128.9,866.6 L130.0,867.7 L131.5,867.6 L132.7,869.3 L133.7,870.1 L135.5,871.0 L136.6,871.8 L138.2,872.4 L139.5,873.2 L140.6,874.8 L142.2,875.8 L143.7,876.8 L144.8,876.6 L146.5,877.9 L147.5,879.1 L148.7,880.2 L150.3,881.0 L151.3,882.0 L152.4,882.6 L153.9,884.3 L155.0,884.0 L156.4,885.6 L157.3,886.2 L158.3,887.3 L159.5,888.0 L161.3,888.7 L162.7,888.8 L164.0,890.0 L165.5,890.7 L167.4,890.9 L168.7,892.1 L170.2,892.6 L172.0,893.3 L173.3,894.2 L175.3,895.9 L176.3,896.0 L178.0,896.0 L179.4,897.3 L180.6,898.2 L182.2,897.9 L184.1,898.2 L185.0,899.1 L186.6,899.4 L188.2,900.6 L189.6,900.0 L191.1,901.5 L192.7,901.1 L194.0,901.6 L195.5,902.1 L197.4,903.3 L198.5,903.1 L200.5,904.6 L202.0,904.1 L203.5,904.4 L205.1,905.2 L206.7,906.2 L207.9,906.3 L209.6,906.8 L211.0,906.9 L212.3,907.4 L213.7,907.5 L215.1,907.3 L217.1,908.3 L218.5,909.5 L220.0,909.4 L221.7,909.3 L223.5,910.4 L224.8,910.0 L226.3,911.0 L227.8,910.5 L228.8,910.4 L230.1,911.2 L231.7,911.2 L233.4,911.8 L234.8,912.3 L236.9,912.1 L238.1,912.8 L239.5,913.0 L241.5,912.7 L242.6,912.6 L244.2,913.2 L245.9,913.6 L247.4,913.8 L248.7,913.3 L250.1,913.2 L251.3,914.1 L253.2,913.5 L254.3,913.8 L255.8,914.1 L257.2,914.6 L258.8,914.7 L260.6,915.2 L261.9,914.7 L263.5,914.3 L264.7,915.4 L266.7,915.6 L268.2,915.0 L269.7,915.6 L271.2,915.5 L272.6,915.0 L273.7,915.6 L275.3,915.3 L276.5,916.0 L278.0,916.1 L279.5,915.9 L281.3,915.5 L282.8,916.0 L284.5,916.5 L286.1,916.7 L287.2,917.3 L288.8,917.7 L290.5,917.3 L292.2,918.2 L293.6,918.1" class="c" stroke-width="1.75"/>
<path d="M118.6,860.8 L118.5,857.4 L117.1,859.2 L119.9,858.3 L119.0,858.7 L118.7,857.9 L119.6,859.6 L117.2,860.4 L118.3,858.9 L118.1,859.7 L118.9,859.3 L118.9,859.1" class="c" stroke-width="1.25"/>
<path d="M51.8,840.6 L53.2,841.9 L53.8,842.5 L54.9,843.3 L56.5,844.2 L57.2,845.1 L58.7,847.5 L59.6,847.7 L61.6,848.4 L62.6,850.4 L64.4,850.6 L65.6,851.9 L66.7,851.9 L68.0,853.6 L69.6,854.0 L70.6,855.0 L72.1,855.5 L73.5,857.6 L74.4,857.8 L76.1,859.4 L77.7,861.4 L79.1,862.9 L80.2,862.8 L81.5,863.9 L82.8,865.6 L84.4,865.6 L85.4,866.6 L86.9,868.1 L88.5,869.4 L89.4,869.4 L91.0,871.4 L92.3,871.9 L94.1,872.1 L95.5,872.9 L97.3,873.5 L98.6,873.7 L100.1,874.5 L101.7,875.2 L103.2,875.6 L104.2,876.9 L105.9,877.4 L107.0,878.8 L107.8,880.5 L109.2,882.0 L110.4,883.5 L111.3,884.8 L112.5,886.9 L113.4,887.5 L114.4,889.0 L115.8,890.9 L116.7,891.4 L118.4,892.8 L119.2,893.5 L120.2,894.3 L121.5,895.0 L122.6,895.6 L124.5,896.9 L125.4,896.7 L126.4,898.7 L128.0,898.6 L128.9,900.0 L130.2,900.5 L131.8,901.3 L132.8,902.4 L134.0,904.1 L135.3,904.7 L136.3,906.0 L137.9,905.7 L138.8,907.6 L140.3,908.0 L141.6,908.5 L142.4,910.2 L144.1,910.6 L145.1,911.6 L146.4,912.4 L147.5,913.8 L149.1,914.1 L150.3,914.6 L151.6,915.4 L152.8,916.4 L154.0,917.1 L155.5,918.0 L156.9,919.6 L158.6,919.8 L159.6,920.6 L161.5,922.1 L162.9,922.8 L164.1,922.6 L165.4,923.5 L167.4,924.0 L168.7,924.8 L170.0,925.9 L171.7,927.0 L173.1,926.9 L174.6,927.6 L176.1,928.0 L177.7,929.1 L179.3,929.8 L180.8,929.2 L182.0,930.4 L184.1,931.1 L185.1,930.9 L186.8,931.6 L188.2,931.8 L189.7,933.3 L191.9,934.3 L193.2,934.7 L194.6,934.6 L195.9,935.2 L197.8,935.7 L198.9,935.9 L200.5,936.0 L201.9,937.1 L203.2,937.3 L204.7,936.4 L206.4,937.6 L207.7,937.5 L209.4,938.1 L210.7,938.4 L212.2,939.9 L214.0,940.0 L215.6,940.7 L217.1,940.6 L218.3,941.2 L220.3,942.0 L221.4,941.5 L222.9,941.4 L224.3,942.5 L226.0,942.0 L227.1,942.9 L229.1,943.6 L230.6,942.7 L232.8,943.9" class="c" stroke-width="1.75"/>
<path d="M51.8,849.1 L53.7,849.5 L54.9,850.7 L56.6,851.0 L58.5,852.1 L60.0,853.1 L61.5,854.4 L62.8,854.7 L64.0,855.3 L65.6,856.4 L66.6,857.7 L67.7,858.8 L68.6,859.6 L70.1,860.6 L71.1,861.2 L71.9,863.0 L73.3,864.0 L74.8,864.5 L75.9,866.5 L77.3,866.6 L78.7,868.1 L80.0,868.2 L81.5,869.7 L82.6,871.0 L84.1,871.6 L85.2,871.9 L87.0,873.4 L88.5,874.5 L89.4,875.6 L90.8,875.8 L92.3,876.9 L93.5,877.5 L94.8,878.2 L96.2,878.6 L97.7,879.2 L98.9,881.3 L100.4,882.4 L101.8,882.9 L103.3,883.7 L105.0,884.6 L106.3,885.7 L107.4,887.2 L108.9,886.9 L110.0,888.6 L111.3,889.2 L112.7,889.6 L113.9,890.6 L115.4,892.0 L116.5,892.8 L117.9,893.5 L119.0,894.4 L120.4,895.5 L121.5,895.8 L122.9,896.5 L124.3,898.4 L125.0,899.0 L126.5,899.6 L127.7,901.1 L129.3,902.0 L130.5,903.4 L131.4,904.4 L132.8,905.1 L134.3,905.5 L135.3,907.0 L136.3,907.6 L137.7,908.3 L138.9,909.8 L140.0,910.6 L141.2,910.6 L142.5,911.5 L143.6,912.2 L144.8,913.0 L146.3,913.9 L147.3,915.2 L148.9,915.5 L150.4,916.8 L151.4,917.9 L153.1,918.8 L154.6,919.7 L156.1,921.5 L157.5,921.4 L158.6,922.7 L159.8,923.0 L161.3,923.4 L162.6,924.5 L164.7,925.3 L166.2,926.3 L167.5,927.2 L169.0,927.8 L170.6,928.8 L172.5,928.9 L173.9,929.3 L175.1,929.6 L176.7,930.5 L177.8,931.6 L179.4,932.1 L180.9,931.9 L182.2,932.3 L183.7,932.5 L185.2,933.0 L186.7,933.4 L188.2,934.3 L189.7,934.2 L191.9,935.4 L193.0,936.4 L194.9,936.6 L196.4,936.7 L197.5,936.7 L199.0,937.7 L200.7,938.5 L201.8,937.7 L203.3,938.4 L205.3,939.4 L206.2,939.6 L207.7,939.3 L209.2,939.6 L210.6,939.9 L212.2,940.8 L213.7,941.2 L215.0,940.6 L216.6,941.2 L218.0,941.8 L219.9,942.3 L221.3,942.0 L222.7,943.1 L224.5,943.6 L225.5,944.2 L227.1,944.5 L229.1,944.6 L231.3,944.5 L232.8,944.2" class="c" stroke-width="1.75"/>
<path d="M117.7,893.4 L117.8,893.0 L117.5,893.8 L117.6,892.8 L120.5,893.0 L119.7,894.9 L119.9,894.8 L121.2,892.8 L118.0,895.3 L121.1,893.1 L121.1,892.3 L118.2,894.9" class="c" stroke-width="1.25"/>
<path d="M51.8,879.5 L53.1,880.2 L54.6,881.9 L56.0,882.5 L57.3,883.8 L58.8,884.5 L60.1,885.8 L61.2,885.8 L62.4,886.9 L63.7,887.3 L65.2,887.7 L67.0,888.8 L68.3,890.1 L69.5,890.8 L71.0,892.1 L71.9,892.3 L73.2,892.6 L74.6,894.3 L76.2,894.4 L77.1,894.9 L78.4,895.7 L80.1,897.0 L81.3,898.1 L82.6,899.1 L84.0,899.6 L85.5,901.5 L87.0,902.2 L88.1,903.9 L89.5,904.4 L91.4,906.5 L92.7,907.2 L93.8,908.9 L94.6,908.7 L95.5,910.0 L96.7,911.3 L97.6,911.8 L98.6,913.0 L100.0,913.8 L101.4,915.7 L103.0,916.6 L104.7,917.2 L106.0,919.0 L107.6,919.3 L109.9,920.0 L111.3,920.2 L113.4,920.3 L115.4,920.8 L115.7,922.0 L115.8,923.4 L116.3,925.5 L116.3,926.6 L117.8,928.1 L119.3,929.6 L120.6,930.1 L122.2,931.4 L123.3,932.4 L124.9,932.9 L125.9,933.5 L127.4,934.3 L128.7,935.5 L129.7,937.0 L131.2,937.5 L132.5,939.7 L133.9,940.6 L135.3,940.7 L136.6,942.6 L138.0,943.5 L139.8,945.0 L141.0,946.1 L142.6,947.0 L143.5,948.7 L145.3,950.0 L146.4,950.4 L147.9,951.1 L149.0,951.5 L150.4,952.9 L151.8,953.0 L153.1,954.4 L155.2,955.0 L156.9,955.3 L158.3,957.0 L159.7,956.6 L161.7,957.5 L163.2,958.7 L165.3,959.1" class="c" stroke-width="1.75"/>
<path d="M51.8,884.5 L53.1,884.9 L54.6,886.4 L56.0,887.6 L57.2,888.0 L58.6,889.3 L60.1,889.1 L61.9,890.6 L63.8,890.5 L65.6,892.3 L66.6,893.1 L68.1,893.9 L69.2,894.4 L71.0,896.0 L72.2,897.6 L73.6,898.3 L74.8,899.1 L76.2,899.9 L77.5,900.0 L78.8,900.5 L79.4,902.6 L80.7,904.2 L81.8,904.8 L82.8,907.3 L84.3,908.2 L85.6,908.9 L87.2,910.4 L88.1,911.6 L89.6,912.7 L91.1,913.3 L92.5,914.6 L93.7,916.4 L95.2,916.8 L96.5,917.3 L97.7,918.4 L99.4,918.9 L101.0,920.0 L102.7,920.8 L104.3,921.0 L105.9,921.8 L107.2,922.7 L108.6,923.9 L110.1,924.8 L111.5,925.5 L112.7,925.7 L113.9,926.3 L115.2,926.9 L116.5,928.0 L117.8,928.7 L119.3,930.1 L120.5,931.6 L121.6,932.5 L122.9,933.5 L123.9,934.3 L125.3,935.2 L126.4,937.0 L127.5,937.9 L129.2,938.9 L130.4,940.0 L131.9,941.4 L133.1,941.8 L134.2,943.6 L135.6,944.5 L137.0,945.6 L138.3,945.7 L139.4,946.9 L140.9,947.9 L142.6,949.3 L143.6,948.7 L145.0,949.7 L146.3,950.3 L147.6,951.3 L149.2,953.2 L150.4,953.6 L151.8,954.5 L153.0,954.8 L154.6,955.8 L156.0,957.0 L157.2,957.9 L158.4,957.7 L159.9,959.4 L162.0,958.6 L163.4,959.1 L165.3,959.4" class="c" stroke-width="1.75"/>
<path d="M117.8,930.1 L121.0,930.2 L118.7,930.2 L118.3,930.6 L117.7,928.7 L118.5,930.2 L120.5,929.2 L119.5,928.3 L119.7,927.4 L120.4,930.7 L119.2,928.9 L119.7,928.6" class="c" stroke-width="1.25"/>
<path d="M147.9,949.4 L146.3,950.8 L147.3,949.7 L145.0,950.8 L145.0,951.2 L144.6,951.4 L147.5,950.3 L147.8,951.1 L147.0,949.6 L144.9,949.2 L144.9,950.8 L147.1,951.5" class="c" stroke-width="1.25"/>
<path d="M51.8,952.9 L53.3,953.4 L54.9,953.6 L56.3,953.9 L57.8,954.0 L59.3,954.3 L60.8,954.8 L62.3,955.0 L63.8,955.2 L65.3,955.6 L66.8,955.9 L68.3,956.1 L69.8,956.3 L71.3,956.6 L72.8,956.9 L74.3,957.2 L75.8,957.4 L77.3,957.7 L78.8,957.9 L80.4,958.1 L81.9,958.3 L83.3,958.5 L84.9,958.8 L86.3,958.9 L87.8,959.2 L89.3,959.3 L90.8,959.5 L92.3,959.7 L93.8,959.8 L95.3,960.1 L96.8,960.2 L98.4,960.4 L99.8,960.5 L101.4,960.8 L102.9,960.9 L104.3,961.1 L105.8,961.2 L107.4,961.4 L108.8,961.5 L110.4,961.6 L111.8,961.7 L113.3,961.9 L114.9,961.9 L116.3,962.1 L117.8,962.2 L119.3,962.3" class="c" stroke-width="1.3"/>
<path d="M123.4,964.4 L125.0,964.3 L126.6,964.3 L128.1,964.1 L129.7,963.9 L131.2,963.9 L132.9,963.6 L134.4,963.5 L135.9,963.2 L137.3,963.0 L138.9,962.9 L140.3,962.6 L141.9,962.4 L143.3,962.3 L144.8,962.0 L146.3,961.9 L147.8,961.6 L149.3,961.3 L150.9,961.2 L152.3,960.9 L153.9,960.7 L155.4,960.5 L156.9,960.1 L158.5,960.0 L159.9,959.7 L161.4,959.4 L162.8,959.1 L164.4,958.9 L165.9,958.6 L167.4,958.3 L168.9,958.1 L170.4,957.8 L171.9,957.6 L173.4,957.4 L175.0,957.2 L176.4,956.9 L177.9,956.5 L179.4,956.3 L180.9,956.2 L182.4,955.8 L183.8,955.6 L185.4,955.3 L186.9,955.2 L188.4,954.9 L189.9,954.6 L191.4,954.1 L192.9,953.9 L194.4,953.5 L195.9,953.3 L197.4,953.0 L199.0,952.8 L200.5,952.3 L201.9,952.1 L203.5,951.7 L204.9,951.2 L206.4,950.8 L207.9,950.5 L209.4,950.1 L210.9,949.7 L212.4,949.4 L213.9,948.8 L215.6,948.6 L217.2,948.1 L218.8,947.7 L220.4,947.6 L222.1,947.1 L223.4,945.0 L225.4,944.3 L227.4,943.7 L228.9,943.2 L230.4,942.7 L232.0,942.0 L233.4,941.4 L234.9,940.9 L236.5,940.5 L237.9,939.7 L239.5,939.3 L240.9,938.7 L242.4,938.2 L244.0,937.6 L245.5,937.1 L246.9,936.5 L248.5,936.0 L249.9,935.5 L251.4,935.1 L252.9,934.6 L254.4,934.0 L256.1,933.5 L257.8,933.0 L259.6,932.6 L261.2,931.8 L261.9,930.6 L262.5,929.0 L264.4,928.3 L266.1,927.7 L267.9,927.0 L269.4,926.3 L270.9,925.9 L272.4,925.3 L273.9,924.7 L275.4,924.2 L276.9,923.7 L278.4,923.0 L279.9,922.4 L281.4,921.8 L283.1,921.2 L284.8,920.3 L286.4,919.7 L288.1,919.0 L289.9,918.3 L291.6,917.5 L293.3,916.7 L294.9,916.0 L296.4,915.1 L297.7,914.2 L299.0,913.3 L300.4,912.4 L301.8,911.4 L303.1,910.7 L304.5,910.0 L305.8,909.2 L307.1,908.4 L308.5,907.6 L309.8,906.9 L311.1,906.3 L312.5,905.6 L313.8,905.0 L315.2,904.2 L317.0,903.5 L318.6,902.9 L320.3,902.2 L322.0,901.5" class="c" stroke-width="1.45"/>
<text x="110.0" y="811.9" font-size="6.3" text-anchor="start" font-weight="normal" fill="#2b2626" transform="rotate(32 110.0 811.9)" stroke="#2b2626" stroke-width="0.12">0 % max. Steuerstrom</text>
<text x="104.6" y="834.8" font-size="6.3" text-anchor="start" font-weight="normal" fill="#2b2626" transform="rotate(37.8 104.6 834.8)" stroke="#2b2626" stroke-width="0.12">50 % max. Steuerstrom</text>
<text x="103.2" y="868.6" font-size="6.3" text-anchor="start" font-weight="normal" fill="#2b2626" transform="rotate(37.8 103.2 868.6)" stroke="#2b2626" stroke-width="0.12">65 % max. Steuerstrom</text>
<text x="101.5" y="900.5" font-size="6.3" text-anchor="start" font-weight="normal" fill="#2b2626" transform="rotate(37.4 101.5 900.5)" stroke="#2b2626" stroke-width="0.12">75 % max. Steuerstrom</text>
<text x="67.6" y="952.6" font-size="6.6" text-anchor="start" font-weight="normal" fill="#2c4250">Druckverlust A<tspan dx="-0.9" font-size="6.2">→</tspan><tspan dx="-0.9">T</tspan></text>
<text x="266.6" y="941.2" font-size="6.6" text-anchor="start" font-weight="normal" fill="#2c4250">Druckverlust P<tspan dx="-0.9" font-size="6.2">→</tspan><tspan dx="-0.9">A</tspan></text>
<line x1="416.50" y1="788.40" x2="416.50" y2="964.40" class="g"/>
<line x1="443.50" y1="788.40" x2="443.50" y2="964.40" class="g"/>
<line x1="470.50" y1="788.40" x2="470.50" y2="964.40" class="g"/>
<line x1="497.50" y1="788.40" x2="497.50" y2="964.40" class="g"/>
<line x1="524.50" y1="788.40" x2="524.50" y2="964.40" class="g"/>
<line x1="551.50" y1="788.40" x2="551.50" y2="964.40" class="g"/>
<line x1="578.50" y1="788.40" x2="578.50" y2="964.40" class="g"/>
<line x1="605.50" y1="788.40" x2="605.50" y2="964.40" class="g"/>
<line x1="632.50" y1="788.40" x2="632.50" y2="964.40" class="g"/>
<line x1="659.50" y1="788.40" x2="659.50" y2="964.40" class="g"/>
<line x1="402.50" y1="929.50" x2="673.50" y2="929.50" class="g"/>
<line x1="402.50" y1="894.50" x2="673.50" y2="894.50" class="g"/>
<line x1="402.50" y1="858.50" x2="673.50" y2="858.50" class="g"/>
<line x1="402.50" y1="823.50" x2="673.50" y2="823.50" class="g"/>
<line x1="429.60" y1="964.40" x2="429.60" y2="962.40" class="t"/>
<line x1="456.70" y1="964.40" x2="456.70" y2="962.40" class="t"/>
<line x1="483.80" y1="964.40" x2="483.80" y2="962.40" class="t"/>
<line x1="510.90" y1="964.40" x2="510.90" y2="962.40" class="t"/>
<line x1="538.00" y1="964.40" x2="538.00" y2="962.40" class="t"/>
<line x1="565.10" y1="964.40" x2="565.10" y2="962.40" class="t"/>
<line x1="592.20" y1="964.40" x2="592.20" y2="962.40" class="t"/>
<line x1="619.30" y1="964.40" x2="619.30" y2="962.40" class="t"/>
<line x1="646.40" y1="964.40" x2="646.40" y2="962.40" class="t"/>
<line x1="402.50" y1="955.60" x2="404.70" y2="955.60" class="t"/>
<line x1="402.50" y1="946.80" x2="404.70" y2="946.80" class="t"/>
<line x1="402.50" y1="938.00" x2="404.70" y2="938.00" class="t"/>
<line x1="402.50" y1="920.40" x2="404.70" y2="920.40" class="t"/>
<line x1="402.50" y1="911.60" x2="404.70" y2="911.60" class="t"/>
<line x1="402.50" y1="902.80" x2="404.70" y2="902.80" class="t"/>
<line x1="402.50" y1="885.20" x2="404.70" y2="885.20" class="t"/>
<line x1="402.50" y1="876.40" x2="404.70" y2="876.40" class="t"/>
<line x1="402.50" y1="867.60" x2="404.70" y2="867.60" class="t"/>
<line x1="402.50" y1="850.00" x2="404.70" y2="850.00" class="t"/>
<line x1="402.50" y1="841.20" x2="404.70" y2="841.20" class="t"/>
<line x1="402.50" y1="832.40" x2="404.70" y2="832.40" class="t"/>
<line x1="402.50" y1="814.80" x2="404.70" y2="814.80" class="t"/>
<line x1="402.50" y1="806.00" x2="404.70" y2="806.00" class="t"/>
<line x1="402.50" y1="797.20" x2="404.70" y2="797.20" class="t"/>
<rect x="402.50" y="788.40" width="271.00" height="176.00" class="f"/>
<line x1="403.80" y1="788.40" x2="403.80" y2="964.40" stroke="#444" stroke-width="0.6"/>
<text x="362.4" y="765.5" font-size="11.4" text-anchor="start" font-weight="bold" fill="#111">Druckstufe 80 bar / 1160 psi</text>
<text transform="translate(399.5 967.3) scale(1.14 1)" font-size="8" text-anchor="end" font-weight="normal" fill="#222" stroke="#222" stroke-width="0.22">0</text>
<text transform="translate(399.5 932.1) scale(1.14 1)" font-size="8" text-anchor="end" font-weight="normal" fill="#222" stroke="#222" stroke-width="0.22">20</text>
<text transform="translate(399.5 896.9) scale(1.14 1)" font-size="8" text-anchor="end" font-weight="normal" fill="#222" stroke="#222" stroke-width="0.22">40</text>
<text transform="translate(399.5 861.7) scale(1.14 1)" font-size="8" text-anchor="end" font-weight="normal" fill="#222" stroke="#222" stroke-width="0.22">60</text>
<text transform="translate(399.5 826.5) scale(1.14 1)" font-size="8" text-anchor="end" font-weight="normal" fill="#222" stroke="#222" stroke-width="0.22">80</text>
<text transform="translate(399.5 791.3) scale(1.14 1)" font-size="8" text-anchor="end" font-weight="normal" fill="#222" stroke="#222" stroke-width="0.22">100</text>
<text transform="translate(417.9 976.4) scale(1.14 1)" font-size="8" text-anchor="middle" font-weight="normal" fill="#222" stroke="#222" stroke-width="0.22">4</text>
<text transform="translate(444.9 976.4) scale(1.14 1)" font-size="8" text-anchor="middle" font-weight="normal" fill="#222" stroke="#222" stroke-width="0.22">2</text>
<text transform="translate(472.1 976.4) scale(1.14 1)" font-size="8" text-anchor="middle" font-weight="normal" fill="#222" stroke="#222" stroke-width="0.22">0</text>
<text transform="translate(499.2 976.4) scale(1.14 1)" font-size="8" text-anchor="middle" font-weight="normal" fill="#222" stroke="#222" stroke-width="0.22">2</text>
<text transform="translate(526.2 976.4) scale(1.14 1)" font-size="8" text-anchor="middle" font-weight="normal" fill="#222" stroke="#222" stroke-width="0.22">4</text>
<text transform="translate(553.3 976.4) scale(1.14 1)" font-size="8" text-anchor="middle" font-weight="normal" fill="#222" stroke="#222" stroke-width="0.22">6</text>
<text transform="translate(580.4 976.4) scale(1.14 1)" font-size="8" text-anchor="middle" font-weight="normal" fill="#222" stroke="#222" stroke-width="0.22">8</text>
<text transform="translate(607.5 976.4) scale(1.14 1)" font-size="8" text-anchor="middle" font-weight="normal" fill="#222" stroke="#222" stroke-width="0.22">10</text>
<text transform="translate(634.6 976.4) scale(1.14 1)" font-size="8" text-anchor="middle" font-weight="normal" fill="#222" stroke="#222" stroke-width="0.22">12</text>
<text transform="translate(661.8 976.4) scale(1.14 1)" font-size="8" text-anchor="middle" font-weight="normal" fill="#222" stroke="#222" stroke-width="0.22">14</text>
<text x="369.2" y="808.9" font-size="6" text-anchor="start" font-weight="bold" fill="#222">p [bar]</text>
<text x="451.0" y="991.1" font-size="6.9" text-anchor="middle" font-weight="bold" fill="#222">1 -&gt; 3</text>
<text x="511.6" y="991.1" font-size="6.9" text-anchor="middle" font-weight="bold" fill="#222">2 -&gt; 1</text>
<text x="640.0" y="990.9" font-size="6.0" text-anchor="start" font-weight="bold" fill="#222">Q</text>
<text x="651.1" y="991.0" font-size="6.0" text-anchor="start" font-weight="bold" fill="#222">[l/min]</text>
<path d="M466.2,823.1 L467.9,822.8 L469.6,823.2 L470.7,822.2 L472.4,822.7 L473.7,822.5 L473.8,823.8 L473.5,825.5 L475.3,826.5 L476.9,827.9 L478.5,828.0 L479.6,829.8 L480.7,830.2 L482.0,832.0 L482.8,832.2 L483.8,833.1 L485.1,834.6 L485.9,835.6 L487.2,836.9 L488.0,837.6 L489.3,838.8 L490.5,840.1 L491.6,841.6 L492.9,842.8 L494.0,844.4 L495.0,845.4 L496.2,847.1 L497.2,847.7 L499.0,849.2 L500.0,850.4 L501.4,850.9 L502.7,852.1 L504.1,853.6 L505.7,855.0 L507.0,856.0 L508.2,857.0 L509.5,857.9 L510.7,858.5 L512.0,859.5 L513.5,860.8 L514.8,861.7 L516.3,862.9 L517.9,863.8 L519.1,864.3 L520.6,865.7 L521.9,866.2 L523.0,867.2 L524.6,868.4 L525.5,869.7 L526.8,869.8 L528.2,871.1 L529.7,871.8 L531.0,873.3 L532.0,873.9 L533.5,874.7 L534.5,875.7 L535.7,877.3 L537.2,877.8 L538.3,878.8 L539.7,879.9 L541.1,881.0 L542.1,881.9 L543.4,882.2 L546.3,882.1 L547.4,884.0 L548.3,884.3 L549.3,885.4 L550.4,887.4 L551.4,888.0 L552.9,889.0 L554.2,889.7 L555.3,890.7 L556.9,891.5 L558.3,892.6 L559.8,893.0 L561.0,894.0 L562.3,894.3 L563.7,894.8 L565.1,895.8 L566.8,897.0 L567.9,897.1 L569.7,898.1 L571.0,898.4 L572.5,899.1 L573.9,899.5 L575.4,899.9 L576.9,900.7 L578.5,901.6 L580.2,902.2 L581.8,902.9 L583.3,903.5 L584.5,903.9 L586.1,904.7 L587.7,905.2 L589.1,906.1 L590.7,905.9 L592.2,906.6 L593.7,907.5 L595.2,907.1 L597.0,907.7 L598.4,908.8 L599.8,909.2 L601.1,909.1 L602.9,910.0 L604.0,909.8 L605.7,911.0 L607.4,911.0 L608.9,911.6 L610.2,912.0 L611.7,912.7 L613.6,912.6 L614.9,913.5 L616.4,913.9 L617.8,914.3 L619.4,915.0 L620.9,915.0 L622.6,914.9 L623.8,915.2 L625.2,915.9 L626.7,915.7 L628.2,916.5 L629.9,916.3 L631.3,916.6 L632.7,916.4 L634.2,917.5 L635.7,917.4 L637.3,917.4 L638.8,917.7 L640.2,917.8 L641.5,917.4 L643.2,918.2 L644.8,917.8 L646.3,918.8 L647.7,918.7 L649.3,918.9 L651.2,919.0 L652.5,919.4 L654.4,919.2 L655.6,919.5 L657.2,920.1 L658.7,919.9 L660.0,919.9 L661.6,919.6 L662.7,920.0 L664.4,920.1 L665.9,919.4 L667.2,920.0 L669.0,919.8 L670.2,919.7 L671.9,919.6 L673.5,920.2" class="c" stroke-width="1.55"/>
<path d="M466.2,823.1 L466.3,824.8 L466.5,827.6 L466.2,829.2 L467.8,829.7 L469.9,830.4 L471.3,830.6 L473.4,831.6 L475.2,832.1 L477.0,832.4 L478.2,832.7 L479.9,833.8 L481.0,834.2 L482.4,835.3 L483.6,835.8 L485.0,836.7 L486.3,837.4 L488.0,838.7 L489.2,840.3 L490.4,840.7 L491.4,842.4 L492.4,843.7 L493.2,844.6 L494.4,846.3 L495.3,847.6 L496.5,848.5 L497.3,849.6 L498.3,851.2 L499.6,852.0 L500.7,853.8 L501.8,854.5 L502.9,856.0 L504.2,857.9 L505.1,859.5 L506.7,860.4 L507.5,862.0 L508.6,863.1 L509.8,864.3 L511.0,865.4 L512.4,866.5 L513.6,867.3 L515.0,868.3 L516.6,869.3 L518.1,870.1 L519.3,871.2 L520.4,872.1 L521.8,872.9 L523.1,874.0 L524.7,874.7 L526.0,875.8 L527.0,876.8 L528.7,877.4 L529.9,878.5 L531.5,879.2 L532.5,880.2 L533.9,881.0 L535.3,881.4 L536.5,882.7 L538.1,883.5 L539.4,884.8 L540.7,885.2 L541.7,886.2 L542.8,887.4 L544.4,888.6 L545.4,889.1 L546.8,889.9 L547.9,891.1 L549.4,891.5 L550.5,893.0 L551.6,893.5 L552.9,894.2 L554.2,894.9 L555.6,896.1 L557.2,896.4 L558.4,897.1 L559.6,897.7 L561.2,897.8 L562.4,898.7 L563.9,899.0 L564.9,899.7 L566.8,900.6 L568.2,901.1 L569.8,901.8 L571.2,902.7 L572.9,903.5 L574.3,904.0 L575.5,903.9 L577.5,904.5 L578.8,905.4 L580.4,905.9 L582.0,906.1 L583.4,907.3 L584.8,907.7 L586.4,907.7 L587.8,908.0 L589.2,908.4 L590.6,909.4 L592.3,910.0 L593.7,909.7 L595.2,910.2 L596.9,910.3 L598.1,910.8 L599.7,911.3 L601.1,912.0 L602.9,912.1 L604.1,912.5 L605.5,912.4 L607.0,912.9 L608.8,913.4 L610.4,913.5 L611.6,913.8 L613.3,914.1 L614.7,914.8 L616.3,915.0 L617.6,915.7 L619.1,915.1 L620.7,915.8 L622.1,915.8 L623.9,916.8 L625.4,917.1 L626.9,917.5 L628.8,917.8 L630.4,918.0 L631.6,917.7 L633.0,918.4 L634.6,918.2 L636.0,918.6 L637.3,918.8 L639.2,918.7 L640.3,919.2 L642.1,919.4 L643.7,920.4 L645.4,920.7 L646.6,920.3 L648.1,920.9 L649.7,920.6 L651.0,921.0 L652.9,920.5 L654.1,920.4 L655.8,920.6 L656.9,921.1 L658.6,920.8 L660.0,921.4 L661.5,921.1 L663.1,920.8 L664.7,920.6 L665.9,920.5 L667.4,920.8 L669.3,921.0 L670.5,920.5 L672.2,920.8 L673.5,920.4" class="c" stroke-width="1.55"/>
<path d="M431.6,822.5 L433.0,822.7 L434.6,823.0 L436.2,823.0 L437.7,823.0 L437.0,825.0 L436.3,826.8 L437.9,827.6 L439.1,829.1 L440.8,830.4 L441.9,831.2 L443.2,833.0 L444.6,833.2 L446.2,833.9 L447.5,834.3 L448.7,835.0 L450.2,836.0 L451.5,837.4 L452.4,837.8 L454.1,839.2 L455.2,839.6 L456.4,840.7 L457.5,842.5 L458.6,844.0 L459.3,845.2 L461.0,845.1 L462.3,845.8 L464.2,846.4 L464.2,847.5 L464.3,849.4 L464.6,850.2 L464.5,852.2 L464.8,853.9 L464.6,855.3 L466.1,856.6 L467.4,857.7 L469.0,858.5 L470.1,859.5 L471.0,861.6 L471.6,862.4 L472.5,864.1 L473.5,865.0 L474.0,866.5 L474.8,868.3 L475.7,869.7 L476.1,871.1 L476.7,871.7 L477.9,873.4 L478.7,874.8 L479.6,875.6 L480.6,877.1 L481.4,878.7 L482.5,880.2 L483.9,882.0 L484.8,882.6 L485.8,883.7 L486.5,885.3 L487.8,887.2 L488.5,888.0 L489.5,889.5 L490.4,890.9 L491.7,891.5 L493.1,893.3 L494.1,894.5 L495.1,895.2 L496.4,896.5 L497.1,897.6 L498.4,898.5 L499.8,899.3 L500.6,900.0 L502.1,900.5 L503.4,901.5 L504.8,902.7 L505.9,904.4 L507.3,905.3 L508.7,906.0 L509.6,906.5 L511.2,907.6 L512.4,908.4 L513.6,909.3 L515.2,910.1 L516.3,910.3 L517.9,911.1 L519.0,911.7 L520.2,911.8 L521.6,912.1 L522.9,913.0 L524.4,913.7 L525.6,915.0 L526.9,914.9 L528.5,916.5 L529.9,916.7 L531.3,917.1 L532.6,917.5 L534.0,919.2 L535.4,919.2 L536.5,920.4 L537.9,921.2 L539.3,921.2 L540.9,922.8 L542.2,923.0 L543.4,924.1 L544.9,924.5 L546.1,925.6 L547.4,926.4 L548.8,927.5 L550.2,927.9 L551.5,929.0 L552.9,930.2 L554.2,931.0 L555.8,931.8 L557.2,932.4 L558.2,933.8 L559.6,934.4 L560.7,935.6 L562.0,936.5 L563.7,937.0 L564.9,938.1 L566.3,939.9 L567.8,940.9 L569.1,941.3 L570.5,942.3 L571.9,943.1 L573.0,944.2 L574.4,944.9 L575.6,946.0 L577.0,946.4 L578.6,947.5 L579.9,947.9 L581.5,948.9 L582.9,949.0 L584.4,950.2 L586.0,951.1 L587.4,951.6 L589.0,951.8 L590.8,952.7 L592.2,953.6 L593.8,953.7 L595.6,954.4 L596.9,954.7 L598.3,955.2 L599.8,955.9 L601.5,956.3 L602.7,956.4 L604.4,956.2 L605.8,956.8" class="c" stroke-width="1.55"/>
<path d="M431.6,822.5 L432.2,824.4 L433.1,825.9 L434.4,827.0 L436.0,827.8 L437.4,828.5 L439.2,829.6 L440.7,830.9 L441.9,830.6 L443.7,830.8 L445.4,831.7 L447.2,831.5 L445.5,832.7 L443.8,833.1 L441.8,833.4 L443.2,835.1 L444.5,835.9 L445.3,837.3 L446.8,838.0 L447.7,839.0 L449.2,840.5 L450.1,841.2 L451.1,841.8 L452.5,843.5 L453.4,844.2 L454.8,845.1 L455.8,846.7 L456.6,847.5 L458.5,848.5 L460.2,848.6 L462.2,849.4 L462.6,851.3 L463.2,852.4 L464.5,853.6 L465.7,855.0 L466.8,856.6 L467.6,857.8 L469.1,858.6 L470.3,860.0 L470.9,861.8 L471.3,862.6 L471.8,863.8 L472.6,865.9 L473.3,867.5 L473.7,868.2 L474.4,870.4 L475.1,871.8 L475.8,872.8 L476.4,874.2 L477.0,876.4 L478.3,877.5 L479.2,878.7 L480.0,880.4 L480.8,882.0 L481.9,882.7 L482.7,884.3 L483.9,885.3 L484.9,886.9 L485.6,888.3 L486.7,889.6 L487.6,890.8 L488.6,891.8 L489.5,893.0 L490.7,894.0 L491.8,895.9 L492.7,896.9 L493.9,898.0 L495.3,899.0 L496.3,900.6 L497.4,901.6 L498.6,902.1 L500.1,902.8 L501.3,904.3 L502.2,905.3 L503.3,905.8 L505.0,906.8 L506.2,907.8 L507.3,908.7 L508.5,909.0 L509.5,909.9 L510.7,911.4 L512.4,912.2 L513.7,912.2 L515.4,912.7 L517.0,913.3 L518.2,914.5 L520.0,914.6 L521.6,915.0 L522.8,915.7 L524.5,916.4 L525.8,917.0 L527.5,917.3 L528.7,917.9 L530.3,918.4 L532.0,919.1 L533.3,919.2 L535.3,920.8 L536.5,920.9 L538.0,921.9 L539.6,922.6 L540.7,922.9 L542.1,923.2 L543.4,924.4 L544.6,925.1 L546.1,926.2 L547.4,926.5 L548.9,927.0 L550.1,927.9 L551.8,929.4 L552.8,929.7 L553.9,930.6 L555.0,932.0 L556.1,932.6 L557.4,934.1 L558.5,934.7 L559.6,936.6 L560.9,937.1 L561.7,938.6 L562.9,938.9 L564.0,940.2 L565.1,940.8 L566.4,941.8 L567.5,942.5 L569.3,944.1 L570.8,944.3 L572.1,945.6 L573.2,945.8 L574.9,947.2 L575.9,947.8 L577.2,948.8 L578.8,949.1 L580.3,949.1 L581.6,950.5 L583.4,950.8 L584.4,951.1 L586.1,951.7 L587.5,952.0 L589.0,952.6 L590.8,953.2 L592.0,954.5 L593.5,954.0 L595.2,954.8 L596.9,955.6 L598.5,955.0 L600.1,955.7 L601.5,956.5 L602.7,956.5 L604.5,956.5 L605.8,956.7" class="c" stroke-width="1.55"/>
<path d="M402.5,832.0 L402.8,830.1 L403.4,828.6 L403.6,826.9 L404.3,825.6 L404.5,823.6 L407.3,824.3 L407.5,825.9 L407.6,827.4 L408.0,829.0 L408.2,830.3 L408.7,832.3 L409.2,834.1 L409.4,835.6 L411.2,835.6 L412.9,836.5 L414.8,836.5 L416.1,836.3 L417.6,835.3 L417.8,837.2 L418.2,838.4 L418.4,839.9 L418.7,840.8 L419.8,842.4 L420.6,843.8 L421.7,844.6 L422.5,845.4 L423.9,847.2 L424.7,848.1 L425.6,849.4 L426.8,850.0 L427.5,851.8 L428.7,852.9 L429.5,853.9 L430.9,854.5 L432.4,855.7 L433.7,857.2 L434.9,858.4 L436.5,858.8 L437.4,860.1 L438.7,861.3 L439.8,862.0 L440.8,862.5 L442.0,863.5 L443.1,864.5 L444.3,866.3 L445.4,867.0 L446.3,868.6 L447.6,870.0 L448.5,870.8 L450.0,871.8 L451.0,873.1 L451.9,874.7 L453.1,875.7 L454.1,877.0 L455.5,878.2 L456.5,879.0 L457.6,880.1 L458.7,881.1 L459.8,882.1 L461.0,883.4 L462.3,884.8 L463.3,885.4 L464.7,887.7 L466.3,889.2 L467.3,890.3 L468.7,891.9 L470.1,893.4 L470.8,894.5 L471.7,896.2 L472.6,897.5 L473.6,899.2 L474.4,900.5 L475.2,902.0 L476.3,903.6 L476.8,904.7 L478.0,906.4 L479.0,907.7 L479.9,908.9 L480.7,910.3 L481.8,911.6 L482.6,913.4 L483.9,914.3 L484.8,915.1 L486.2,916.4 L487.4,917.5 L488.4,919.0 L489.6,920.2 L490.8,920.9 L491.8,921.9 L493.0,923.4 L494.0,924.0 L495.3,924.7 L496.4,925.7 L497.5,926.5 L498.7,928.1 L499.7,928.8 L501.2,930.1 L502.2,930.9 L503.6,932.0 L504.7,932.8 L506.2,934.1 L507.2,934.9 L508.8,936.0 L509.6,936.6 L511.2,937.8 L512.1,938.4 L513.7,939.1 L514.9,940.1 L516.3,940.8 L517.5,941.8 L518.9,942.9 L520.4,944.0 L521.8,944.8 L523.1,945.4 L524.4,946.5 L526.0,947.6 L527.4,948.0 L528.8,949.5 L529.7,949.6 L531.3,950.4 L532.6,951.6 L534.2,952.2 L535.3,952.9 L536.6,954.1 L538.2,954.4 L539.7,955.2 L538.0,957.0 L536.3,957.2 L534.5,957.3 L533.1,957.3 L531.3,956.5 L529.9,955.4 L528.8,954.8 L526.6,954.0 L524.5,953.4 L523.2,952.0 L522.1,951.0 L521.0,949.7 L519.9,949.1 L518.7,948.2 L517.7,946.8" class="c" stroke-width="1.55"/>
<path d="M402.5,832.0 L403.7,833.1 L405.3,834.4 L406.6,835.1 L408.0,836.4 L409.4,837.6 L410.5,838.6 L411.7,839.4 L412.8,840.7 L413.7,841.7 L415.1,842.8 L415.9,844.3 L417.3,845.3 L418.6,846.4 L420.1,847.7 L421.4,848.9 L423.0,849.7 L423.8,851.1 L425.0,851.8 L426.4,853.6 L427.3,854.2 L428.4,855.3 L429.9,856.3 L431.0,857.2 L432.3,857.8 L433.8,858.7 L435.2,859.5 L436.3,859.6 L437.3,861.2 L438.7,862.4 L439.8,863.5 L440.7,864.6 L441.9,865.8 L443.2,867.2 L444.2,868.8 L445.2,870.4 L445.9,871.6 L447.0,872.7 L447.8,874.1 L449.1,875.6 L450.0,877.0 L450.7,878.1 L452.0,879.5 L452.8,880.5 L453.7,881.7 L454.7,883.0 L455.8,884.1 L456.6,885.8 L457.5,886.9 L458.3,888.0 L459.2,889.3 L459.8,890.6 L460.7,892.1 L461.4,893.2 L463.0,893.5 L464.7,893.9 L466.2,893.8 L467.9,894.0 L469.9,894.6 L471.3,894.5 L472.8,894.3 L474.4,894.6 L472.4,894.6 L470.3,894.7 L471.1,896.4 L471.9,897.8 L472.6,899.0 L473.3,900.1 L474.0,901.2 L474.6,902.8 L475.6,904.5 L476.4,905.6 L476.9,907.8 L477.7,908.5 L478.8,910.2 L479.7,911.7 L480.5,912.9 L481.2,914.5 L481.8,915.3 L482.8,916.6 L483.4,918.1 L484.9,919.2 L485.9,920.5 L487.0,920.8 L488.4,922.5 L489.6,923.5 L490.5,924.1 L491.8,925.7 L492.7,926.5 L493.8,927.1 L495.0,928.2 L496.1,928.7 L497.2,930.1 L498.5,931.0 L499.7,931.6 L501.1,933.2 L502.0,933.8 L503.5,934.6 L504.6,935.4 L505.8,936.8 L507.2,937.9 L508.3,938.7 L509.7,939.2 L510.8,939.9 L512.3,941.0 L513.6,942.1 L515.1,943.4 L516.0,944.6 L517.6,945.2 L518.8,946.3 L520.4,946.7 L521.7,947.9 L523.2,948.5 L524.5,949.3" class="c" stroke-width="1.55"/>
<path d="M402.5,961.6 L404.0,961.6 L405.6,961.7 L407.0,961.9 L408.5,961.8 L410.1,962.0 L411.5,962.0 L413.0,962.1 L414.6,962.2 L416.0,962.3 L417.5,962.4 L419.1,962.4 L420.6,962.6 L422.0,962.6 L423.6,962.7 L425.1,962.7 L426.6,962.8 L428.1,962.9 L429.6,962.9 L431.1,963.1 L432.6,963.1 L434.1,963.1 L435.7,963.2 L437.1,963.3 L438.7,963.4 L440.1,963.3 L441.6,963.3 L443.1,963.5 L444.6,963.5 L446.1,963.4 L447.7,963.6 L449.1,963.7 L450.6,963.6 L452.2,963.7 L453.7,963.9 L455.2,964.0 L456.7,963.9 L458.2,964.0 L459.7,964.0 L461.2,964.0 L462.7,964.2 L464.2,964.2 L465.8,964.1 L467.3,964.3 L468.7,964.4 L470.3,964.3 L471.8,964.3 L473.3,964.4 L474.7,964.3 L476.3,964.3 L477.8,964.3 L479.3,964.3 L480.8,964.3 L482.3,964.4 L483.8,964.3 L485.3,964.1 L486.8,964.2 L488.3,964.1 L489.9,964.1 L491.4,964.1 L492.9,964.0 L494.4,963.9 L495.8,964.0 L497.4,963.9 L498.9,964.0 L500.3,963.8 L501.9,963.8 L503.4,963.8 L504.9,963.7 L506.4,963.7 L507.9,963.6 L509.3,963.4 L510.9,963.3 L512.4,963.4 L513.9,963.2 L515.4,963.1 L516.9,963.1 L518.4,963.2 L519.9,963.1 L521.4,963.1 L523.0,963.0 L524.5,963.0 L526.0,963.0 L527.5,962.9 L529.0,962.8 L530.5,962.8 L532.0,962.6 L533.5,962.5 L534.9,962.3 L536.5,962.1 L537.9,962.1 L539.4,962.0 L541.0,961.9 L542.5,961.9 L544.0,961.8 L545.5,961.7 L547.1,961.7 L548.5,961.6 L550.0,961.5 L551.6,961.5 L553.0,961.4 L554.5,961.1 L556.1,961.1 L557.5,961.0 L559.0,960.6 L560.6,960.7 L562.0,960.4 L563.6,960.4 L565.1,960.1 L566.6,960.1 L568.1,960.0 L569.6,960.0 L571.1,959.9 L572.7,959.7 L574.1,959.5 L575.6,959.5 L577.1,959.2 L578.6,959.1 L580.2,958.9 L581.7,958.9 L583.2,958.7 L584.8,958.7 L586.3,958.5 L587.8,958.4 L589.3,958.2 L590.9,958.0 L592.4,958.0 L593.9,957.8 L595.4,957.6 L596.9,957.5 L598.5,957.5 L599.9,957.3 L601.5,957.0 L603.0,956.9 L604.8,956.6 L606.7,956.5 L608.5,956.2 L610.0,956.1 L611.6,955.9 L613.0,955.8 L614.5,955.7 L616.0,955.6 L617.6,955.4 L619.1,955.3 L620.7,955.2 L622.2,955.1 L623.8,955.0 L625.2,954.8 L626.7,954.7 L628.3,954.5 L629.8,954.4 L631.3,954.4 L632.9,954.3 L634.3,954.1 L635.9,954.0 L637.4,953.7 L638.9,953.5 L640.4,953.3 L641.9,953.1 L643.3,953.0 L644.9,953.0 L646.3,952.7 L647.9,952.5 L649.4,952.4 L650.9,952.2 L652.4,952.0 L653.9,951.8 L655.5,951.7 L656.9,951.6 L658.5,951.3 L660.0,951.0 L661.5,951.0 L663.0,950.7 L664.5,950.5 L666.0,950.2 L667.5,950.1 L669.0,949.8 L670.5,949.7 L671.9,949.3 L673.5,949.3" class="c" stroke-width="1.4"/>
<text x="484.6" y="821.3" font-size="6.3" text-anchor="start" font-weight="normal" fill="#2b2626" transform="rotate(42 484.6 821.3)" stroke="#2b2626" stroke-width="0.12">0 % max. Steuerstrom</text>
<text x="486.6" y="867.6" font-size="6.3" text-anchor="start" font-weight="normal" fill="#2b2626" transform="rotate(42 486.6 867.6)" stroke="#2b2626" stroke-width="0.12">50 % max. Steuerstrom</text>
<text x="489.1" y="906.2" font-size="6.3" text-anchor="start" font-weight="normal" fill="#2b2626" transform="rotate(41 489.1 906.2)" stroke="#2b2626" stroke-width="0.12">60 % max. Steuerstrom</text>
<text x="417.8" y="958.2" font-size="6.6" text-anchor="start" font-weight="normal" fill="#2c4250">Druckverlust A<tspan dx="-0.9" font-size="6.2">→</tspan><tspan dx="-0.9">T</tspan></text>
<text x="615.9" y="947.3" font-size="6.6" text-anchor="start" font-weight="normal" fill="#2c4250">Druckverlust P<tspan dx="-0.9" font-size="6.2">→</tspan><tspan dx="-0.9">A</tspan></text>
<rect x="635.7" y="1018.1" width="54.5" height="12.6" rx="6.3" ry="6.3" fill="#e30d18"/>
<g fill="none" stroke="#fff" stroke-width="2.25" stroke-linejoin="miter" stroke-linecap="butt">
<path d="M640.8,1020.1 V1028.8 M647.6,1020.1 V1028.8 M640.8,1024.45 H647.6"/>
<path d="M650.2,1020.1 L654.1,1024.75 L658,1020.1 M654.1,1024.45 V1028.8"/>
<path d="M660.6,1021.15 H665.6 Q667.6,1021.15 667.6,1023.1 V1025.8 Q667.6,1027.75 665.6,1027.75 H660.6 Z"/>
<path d="M670,1028.8 L673.9,1020.7 L677.8,1028.8 M671.5,1026.2 H676.3"/>
<path d="M687,1021.15 H682.4 Q680.4,1021.15 680.4,1023.1 V1025.8 Q680.4,1027.75 682.4,1027.75 H687"/>
</g>
</g></svg></body></html>
